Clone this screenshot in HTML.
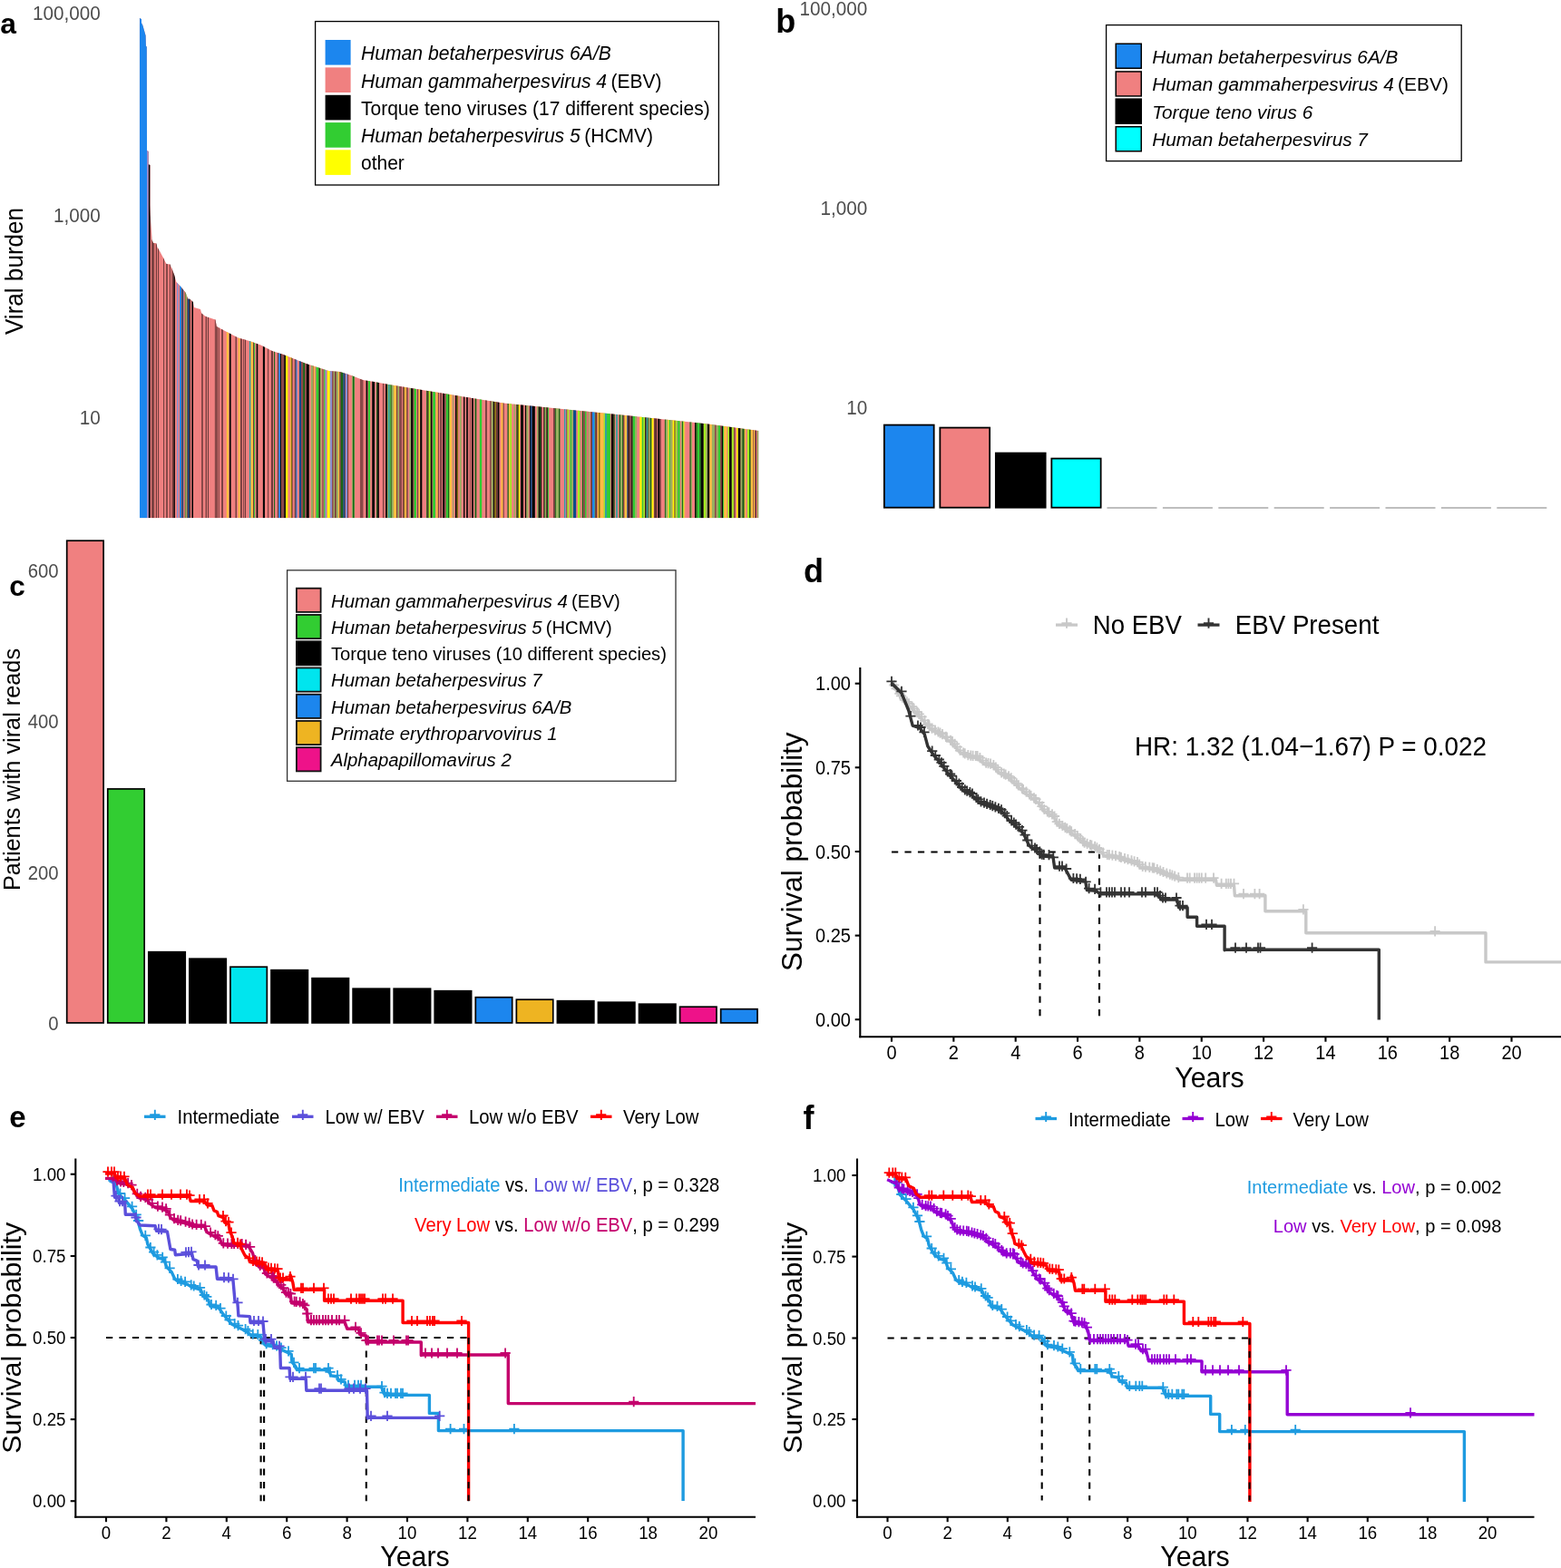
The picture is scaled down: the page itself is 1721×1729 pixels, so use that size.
<!DOCTYPE html>
<html lang="en"><head><meta charset="utf-8"><title>Viral burden and survival</title>
<style>
html,body{margin:0;padding:0;background:#fff;}
body{width:1721px;height:1729px;overflow:hidden;font-family:"Liberation Sans", sans-serif;}
svg{display:block;position:absolute;left:0;top:0;}
text{white-space:pre;}
</style></head><body>
<svg width="1721" height="1729" viewBox="0 0 1721 1729" font-family='"Liberation Sans", sans-serif'>
<text transform="translate(0.2 36.6)" font-size="31.8" fill="#000" font-weight="bold">a</text>
<text transform="translate(110.8 22.0) scale(1 1.05)" font-size="20.7" fill="#4D4D4D" text-anchor="end">100,000</text>
<text transform="translate(110.8 244.9) scale(1 1.05)" font-size="20.7" fill="#4D4D4D" text-anchor="end">1,000</text>
<text transform="translate(110.8 467.6) scale(1 1.05)" font-size="20.7" fill="#4D4D4D" text-anchor="end">10</text>
<text transform="translate(24.7 299) rotate(-90) scale(1 1.05)" font-size="26.1" fill="#000" text-anchor="middle">Viral burden</text>
<clipPath id="envA"><polygon points="154,571.3 153.9,19.8 156.0,21.2 156.0,25.3 157.4,28.1 158.8,33.0 160.6,39.3 160.9,50.4 161.8,51.8 162.0,166.0 163.7,167.0 163.7,181.3 165.5,182.0 165.5,226.4 165.8,237.0 167.0,255.0 167.3,264.0 169.0,268.0 172.4,268.5 173.5,272.7 176.0,276.7 180.0,284.3 183.4,291.0 187.5,291.5 189.8,297.0 192.0,302.8 194.4,310.9 197.9,314.4 201.3,318.4 204.8,323.0 207.1,329.4 209.4,329.8 212.9,332.9 214.0,339.0 221.0,341.0 222.2,345.6 226.8,349.0 237.5,352.5 238.8,360.0 250.0,366.0 262.5,372.5 275.0,376.0 287.5,380.5 300.0,387.0 312.5,391.0 325.0,396.0 337.5,401.0 350.0,405.0 362.5,409.0 375.0,410.0 387.5,414.0 400.0,419.0 412.5,421.0 430.0,424.3 555.0,444.5 680.0,457.0 780.0,467.5 836.3,475.0 836.3,571.3"/></clipPath>
<g clip-path="url(#envA)">
<rect x="153.00" y="10.00" width="684.00" height="561.30" fill="#F08080"/>
<rect x="153.92" y="10.00" width="8.11" height="561.30" fill="#1C86EE"/>
<rect x="162.03" y="10.00" width="1.83" height="561.30" fill="#9C8CCB"/>
<rect x="163.86" y="10.00" width="1.83" height="561.30" fill="#050505"/>
<rect x="167.26" y="10.00" width="2.62" height="561.30" fill="#6E3A3A"/>
<rect x="169.87" y="10.00" width="2.09" height="561.30" fill="#D87272"/>
<rect x="171.97" y="10.00" width="1.05" height="561.30" fill="#6E3A3A"/>
<rect x="174.06" y="10.00" width="1.05" height="561.30" fill="#6E3A3A"/>
<rect x="180.07" y="10.00" width="1.05" height="561.30" fill="#6E3A3A"/>
<rect x="183.21" y="10.00" width="1.57" height="561.30" fill="#6E3A3A"/>
<rect x="186.87" y="10.00" width="1.05" height="561.30" fill="#6E3A3A"/>
<rect x="189.23" y="10.00" width="2.09" height="561.30" fill="#8A4848"/>
<rect x="191.32" y="10.00" width="1.57" height="561.30" fill="#050505"/>
<rect x="194.98" y="10.00" width="1.57" height="561.30" fill="#8C90D0"/>
<rect x="198.12" y="10.00" width="2.09" height="561.30" fill="#1C86EE"/>
<rect x="200.21" y="10.00" width="0.78" height="561.30" fill="#6E3A3A"/>
<rect x="200.99" y="10.00" width="1.31" height="561.30" fill="#0A4A8A"/>
<rect x="202.30" y="10.00" width="1.57" height="561.30" fill="#D87272"/>
<rect x="203.87" y="10.00" width="0.78" height="561.30" fill="#176417"/>
<rect x="204.65" y="10.00" width="1.57" height="561.30" fill="#98B060"/>
<rect x="206.22" y="10.00" width="0.78" height="561.30" fill="#6E3A3A"/>
<rect x="207.01" y="10.00" width="1.57" height="561.30" fill="#0A4A8A"/>
<rect x="208.58" y="10.00" width="1.05" height="561.30" fill="#050505"/>
<rect x="211.45" y="10.00" width="1.57" height="561.30" fill="#050505"/>
<rect x="222.18" y="10.00" width="1.57" height="561.30" fill="#6E3A3A"/>
<rect x="226.62" y="10.00" width="1.31" height="561.30" fill="#6E3A3A"/>
<rect x="228.97" y="10.00" width="1.05" height="561.30" fill="#6E3A3A"/>
<rect x="236.82" y="10.00" width="3.19" height="561.30" fill="#8A4848"/>
<rect x="240.70" y="10.00" width="1.05" height="561.30" fill="#6E3A3A"/>
<rect x="244.18" y="10.00" width="1.74" height="561.30" fill="#6E3A3A"/>
<rect x="249.76" y="10.00" width="2.44" height="561.30" fill="#FFC040"/>
<rect x="252.90" y="10.00" width="1.74" height="561.30" fill="#050505"/>
<rect x="259.53" y="10.00" width="1.39" height="561.30" fill="#6E3A3A"/>
<rect x="262.66" y="10.00" width="1.74" height="561.30" fill="#FFC040"/>
<rect x="265.10" y="10.00" width="1.74" height="561.30" fill="#6E3A3A"/>
<rect x="268.24" y="10.00" width="1.05" height="561.30" fill="#6E3A3A"/>
<rect x="269.29" y="10.00" width="0.70" height="561.30" fill="#D87272"/>
<rect x="269.99" y="10.00" width="1.05" height="561.30" fill="#6E3A3A"/>
<rect x="274.87" y="10.00" width="1.74" height="561.30" fill="#30A0A0"/>
<rect x="276.61" y="10.00" width="2.44" height="561.30" fill="#FFC040"/>
<rect x="279.05" y="10.00" width="1.05" height="561.30" fill="#6E3A3A"/>
<rect x="280.10" y="10.00" width="1.05" height="561.30" fill="#32CD32"/>
<rect x="282.68" y="10.00" width="1.60" height="561.30" fill="#050505"/>
<rect x="289.86" y="10.00" width="2.09" height="561.30" fill="#050505"/>
<rect x="295.09" y="10.00" width="1.05" height="561.30" fill="#6E3A3A"/>
<rect x="298.93" y="10.00" width="2.09" height="561.30" fill="#6E3A3A"/>
<rect x="302.06" y="10.00" width="1.05" height="561.30" fill="#176417"/>
<rect x="305.90" y="10.00" width="1.39" height="561.30" fill="#6E3A3A"/>
<rect x="307.29" y="10.00" width="1.74" height="561.30" fill="#1C86EE"/>
<rect x="309.04" y="10.00" width="1.05" height="561.30" fill="#050505"/>
<rect x="310.08" y="10.00" width="3.14" height="561.30" fill="#8A4848"/>
<rect x="313.22" y="10.00" width="1.74" height="561.30" fill="#050505"/>
<rect x="314.97" y="10.00" width="2.44" height="561.30" fill="#FFF800"/>
<rect x="319.85" y="10.00" width="1.05" height="561.30" fill="#FFC040"/>
<rect x="320.89" y="10.00" width="1.05" height="561.30" fill="#807010"/>
<rect x="321.94" y="10.00" width="0.70" height="561.30" fill="#6E3A3A"/>
<rect x="324.73" y="10.00" width="1.05" height="561.30" fill="#6E3A3A"/>
<rect x="325.77" y="10.00" width="1.05" height="561.30" fill="#0A4A8A"/>
<rect x="326.82" y="10.00" width="1.05" height="561.30" fill="#8C90D0"/>
<rect x="329.96" y="10.00" width="2.09" height="561.30" fill="#0A4A8A"/>
<rect x="332.05" y="10.00" width="2.09" height="561.30" fill="#8A4848"/>
<rect x="334.14" y="10.00" width="2.09" height="561.30" fill="#176417"/>
<rect x="336.23" y="10.00" width="1.74" height="561.30" fill="#8A4848"/>
<rect x="337.98" y="10.00" width="2.79" height="561.30" fill="#050505"/>
<rect x="342.86" y="10.00" width="2.09" height="561.30" fill="#98B060"/>
<rect x="344.95" y="10.00" width="0.70" height="561.30" fill="#6E3A3A"/>
<rect x="345.65" y="10.00" width="1.39" height="561.30" fill="#FFC040"/>
<rect x="348.44" y="10.00" width="2.79" height="561.30" fill="#32CD32"/>
<rect x="351.23" y="10.00" width="1.05" height="561.30" fill="#176417"/>
<rect x="352.27" y="10.00" width="0.70" height="561.30" fill="#050505"/>
<rect x="352.97" y="10.00" width="1.39" height="561.30" fill="#98B060"/>
<rect x="355.41" y="10.00" width="1.05" height="561.30" fill="#6E3A3A"/>
<rect x="357.15" y="10.00" width="1.39" height="561.30" fill="#32CD32"/>
<rect x="358.55" y="10.00" width="1.46" height="561.30" fill="#8C90D0"/>
<rect x="360.84" y="10.00" width="3.00" height="561.30" fill="#FFF800"/>
<rect x="363.84" y="10.00" width="2.44" height="561.30" fill="#8C90D0"/>
<rect x="366.28" y="10.00" width="1.39" height="561.30" fill="#6E3A3A"/>
<rect x="367.67" y="10.00" width="1.39" height="561.30" fill="#98B060"/>
<rect x="369.07" y="10.00" width="1.74" height="561.30" fill="#6E3A3A"/>
<rect x="370.81" y="10.00" width="2.09" height="561.30" fill="#98B060"/>
<rect x="372.90" y="10.00" width="1.39" height="561.30" fill="#FFC040"/>
<rect x="374.30" y="10.00" width="1.39" height="561.30" fill="#6E3A3A"/>
<rect x="375.69" y="10.00" width="2.79" height="561.30" fill="#176417"/>
<rect x="378.48" y="10.00" width="1.74" height="561.30" fill="#0A4A8A"/>
<rect x="380.22" y="10.00" width="0.70" height="561.30" fill="#6E3A3A"/>
<rect x="380.92" y="10.00" width="2.09" height="561.30" fill="#8C90D0"/>
<rect x="383.01" y="10.00" width="1.05" height="561.30" fill="#6E3A3A"/>
<rect x="387.89" y="10.00" width="1.05" height="561.30" fill="#98B060"/>
<rect x="388.94" y="10.00" width="1.74" height="561.30" fill="#176417"/>
<rect x="390.68" y="10.00" width="0.35" height="561.30" fill="#32CD32"/>
<rect x="396.96" y="10.00" width="3.49" height="561.30" fill="#8A4848"/>
<rect x="403.58" y="10.00" width="1.74" height="561.30" fill="#050505"/>
<rect x="406.03" y="10.00" width="2.09" height="561.30" fill="#32CD32"/>
<rect x="410.21" y="10.00" width="2.79" height="561.30" fill="#050505"/>
<rect x="415.09" y="10.00" width="1.05" height="561.30" fill="#176417"/>
<rect x="416.14" y="10.00" width="1.74" height="561.30" fill="#050505"/>
<rect x="422.06" y="10.00" width="1.05" height="561.30" fill="#6E3A3A"/>
<rect x="423.11" y="10.00" width="2.09" height="561.30" fill="#D87272"/>
<rect x="425.20" y="10.00" width="1.74" height="561.30" fill="#050505"/>
<rect x="426.95" y="10.00" width="1.05" height="561.30" fill="#98B060"/>
<rect x="427.99" y="10.00" width="1.74" height="561.30" fill="#30A0A0"/>
<rect x="429.74" y="10.00" width="1.05" height="561.30" fill="#32CD32"/>
<rect x="430.78" y="10.00" width="1.05" height="561.30" fill="#176417"/>
<rect x="431.83" y="10.00" width="2.09" height="561.30" fill="#98B060"/>
<rect x="433.92" y="10.00" width="3.14" height="561.30" fill="#FFC040"/>
<rect x="437.06" y="10.00" width="1.39" height="561.30" fill="#6E3A3A"/>
<rect x="438.45" y="10.00" width="1.74" height="561.30" fill="#98B060"/>
<rect x="440.20" y="10.00" width="2.79" height="561.30" fill="#8A4848"/>
<rect x="444.03" y="10.00" width="1.39" height="561.30" fill="#6E3A3A"/>
<rect x="445.43" y="10.00" width="1.05" height="561.30" fill="#807010"/>
<rect x="446.47" y="10.00" width="1.74" height="561.30" fill="#FFC040"/>
<rect x="448.21" y="10.00" width="1.39" height="561.30" fill="#6E3A3A"/>
<rect x="451.35" y="10.00" width="1.74" height="561.30" fill="#98B060"/>
<rect x="453.10" y="10.00" width="2.09" height="561.30" fill="#050505"/>
<rect x="455.19" y="10.00" width="1.39" height="561.30" fill="#6E3A3A"/>
<rect x="456.58" y="10.00" width="2.44" height="561.30" fill="#32CD32"/>
<rect x="460.07" y="10.00" width="1.39" height="561.30" fill="#6E3A3A"/>
<rect x="461.46" y="10.00" width="1.74" height="561.30" fill="#FFC040"/>
<rect x="463.21" y="10.00" width="2.09" height="561.30" fill="#050505"/>
<rect x="470.18" y="10.00" width="1.39" height="561.30" fill="#176417"/>
<rect x="471.58" y="10.00" width="1.05" height="561.30" fill="#050505"/>
<rect x="472.62" y="10.00" width="2.09" height="561.30" fill="#A4EE20"/>
<rect x="474.71" y="10.00" width="1.74" height="561.30" fill="#050505"/>
<rect x="477.15" y="10.00" width="2.86" height="561.30" fill="#32CD32"/>
<rect x="480.84" y="10.00" width="1.95" height="561.30" fill="#FFC040"/>
<rect x="482.79" y="10.00" width="1.05" height="561.30" fill="#6E3A3A"/>
<rect x="485.23" y="10.00" width="1.74" height="561.30" fill="#6E3A3A"/>
<rect x="488.02" y="10.00" width="2.09" height="561.30" fill="#050505"/>
<rect x="490.11" y="10.00" width="1.74" height="561.30" fill="#8A4848"/>
<rect x="491.85" y="10.00" width="2.09" height="561.30" fill="#32CD32"/>
<rect x="493.95" y="10.00" width="1.05" height="561.30" fill="#176417"/>
<rect x="494.99" y="10.00" width="0.70" height="561.30" fill="#32CD32"/>
<rect x="495.69" y="10.00" width="2.44" height="561.30" fill="#FFC040"/>
<rect x="499.18" y="10.00" width="1.05" height="561.30" fill="#98B060"/>
<rect x="501.97" y="10.00" width="1.74" height="561.30" fill="#050505"/>
<rect x="503.71" y="10.00" width="1.39" height="561.30" fill="#807010"/>
<rect x="506.85" y="10.00" width="1.74" height="561.30" fill="#98B060"/>
<rect x="511.03" y="10.00" width="1.39" height="561.30" fill="#050505"/>
<rect x="514.17" y="10.00" width="1.74" height="561.30" fill="#050505"/>
<rect x="515.91" y="10.00" width="2.44" height="561.30" fill="#D87272"/>
<rect x="518.35" y="10.00" width="0.70" height="561.30" fill="#6E3A3A"/>
<rect x="520.10" y="10.00" width="1.74" height="561.30" fill="#050505"/>
<rect x="523.58" y="10.00" width="1.74" height="561.30" fill="#176417"/>
<rect x="528.81" y="10.00" width="2.44" height="561.30" fill="#32CD32"/>
<rect x="535.09" y="10.00" width="1.74" height="561.30" fill="#6E3A3A"/>
<rect x="539.97" y="10.00" width="1.74" height="561.30" fill="#8A4848"/>
<rect x="541.72" y="10.00" width="2.09" height="561.30" fill="#98B060"/>
<rect x="543.81" y="10.00" width="1.39" height="561.30" fill="#050505"/>
<rect x="545.20" y="10.00" width="1.74" height="561.30" fill="#807010"/>
<rect x="546.95" y="10.00" width="1.74" height="561.30" fill="#6E3A3A"/>
<rect x="548.69" y="10.00" width="1.74" height="561.30" fill="#050505"/>
<rect x="552.52" y="10.00" width="2.09" height="561.30" fill="#FFC040"/>
<rect x="554.62" y="10.00" width="1.05" height="561.30" fill="#6E3A3A"/>
<rect x="559.50" y="10.00" width="1.39" height="561.30" fill="#176417"/>
<rect x="560.89" y="10.00" width="1.39" height="561.30" fill="#FFC040"/>
<rect x="562.29" y="10.00" width="1.74" height="561.30" fill="#A4EE20"/>
<rect x="566.47" y="10.00" width="1.39" height="561.30" fill="#98B060"/>
<rect x="569.26" y="10.00" width="1.39" height="561.30" fill="#176417"/>
<rect x="570.66" y="10.00" width="1.05" height="561.30" fill="#050505"/>
<rect x="571.70" y="10.00" width="1.39" height="561.30" fill="#FFF800"/>
<rect x="574.14" y="10.00" width="2.79" height="561.30" fill="#050505"/>
<rect x="576.93" y="10.00" width="2.09" height="561.30" fill="#D87272"/>
<rect x="579.02" y="10.00" width="1.39" height="561.30" fill="#050505"/>
<rect x="580.42" y="10.00" width="2.09" height="561.30" fill="#98B060"/>
<rect x="583.91" y="10.00" width="1.05" height="561.30" fill="#050505"/>
<rect x="584.95" y="10.00" width="1.74" height="561.30" fill="#0A4A8A"/>
<rect x="586.69" y="10.00" width="3.14" height="561.30" fill="#050505"/>
<rect x="591.92" y="10.00" width="1.74" height="561.30" fill="#98B060"/>
<rect x="593.67" y="10.00" width="1.39" height="561.30" fill="#050505"/>
<rect x="595.06" y="10.00" width="1.05" height="561.30" fill="#176417"/>
<rect x="596.11" y="10.00" width="1.05" height="561.30" fill="#050505"/>
<rect x="598.90" y="10.00" width="1.12" height="561.30" fill="#6E3A3A"/>
<rect x="600.00" y="10.00" width="0.84" height="561.30" fill="#176417"/>
<rect x="600.84" y="10.00" width="1.12" height="561.30" fill="#98B060"/>
<rect x="601.95" y="10.00" width="0.84" height="561.30" fill="#6E3A3A"/>
<rect x="602.79" y="10.00" width="1.05" height="561.30" fill="#050505"/>
<rect x="603.84" y="10.00" width="1.05" height="561.30" fill="#32CD32"/>
<rect x="610.11" y="10.00" width="1.74" height="561.30" fill="#6E3A3A"/>
<rect x="611.85" y="10.00" width="1.05" height="561.30" fill="#176417"/>
<rect x="612.90" y="10.00" width="3.14" height="561.30" fill="#98B060"/>
<rect x="616.04" y="10.00" width="1.39" height="561.30" fill="#176417"/>
<rect x="621.97" y="10.00" width="1.39" height="561.30" fill="#30A0A0"/>
<rect x="623.36" y="10.00" width="1.05" height="561.30" fill="#8C90D0"/>
<rect x="624.41" y="10.00" width="1.05" height="561.30" fill="#6E3A3A"/>
<rect x="625.45" y="10.00" width="1.74" height="561.30" fill="#A4EE20"/>
<rect x="628.59" y="10.00" width="1.74" height="561.30" fill="#32CD32"/>
<rect x="630.33" y="10.00" width="1.74" height="561.30" fill="#98B060"/>
<rect x="632.08" y="10.00" width="3.14" height="561.30" fill="#0A4A8A"/>
<rect x="636.96" y="10.00" width="2.09" height="561.30" fill="#A4EE20"/>
<rect x="639.05" y="10.00" width="1.05" height="561.30" fill="#98B060"/>
<rect x="641.84" y="10.00" width="1.39" height="561.30" fill="#176417"/>
<rect x="643.24" y="10.00" width="1.74" height="561.30" fill="#8A4848"/>
<rect x="644.98" y="10.00" width="1.74" height="561.30" fill="#32CD32"/>
<rect x="646.72" y="10.00" width="2.09" height="561.30" fill="#D87272"/>
<rect x="648.81" y="10.00" width="1.39" height="561.30" fill="#98B060"/>
<rect x="651.26" y="10.00" width="1.74" height="561.30" fill="#6E3A3A"/>
<rect x="653.00" y="10.00" width="2.09" height="561.30" fill="#1C86EE"/>
<rect x="655.09" y="10.00" width="1.05" height="561.30" fill="#30A0A0"/>
<rect x="656.14" y="10.00" width="2.44" height="561.30" fill="#6E3A3A"/>
<rect x="658.58" y="10.00" width="1.39" height="561.30" fill="#FFC040"/>
<rect x="659.97" y="10.00" width="1.74" height="561.30" fill="#807010"/>
<rect x="661.72" y="10.00" width="2.09" height="561.30" fill="#FFC040"/>
<rect x="663.81" y="10.00" width="1.74" height="561.30" fill="#FFC040"/>
<rect x="665.55" y="10.00" width="1.39" height="561.30" fill="#A4EE20"/>
<rect x="666.95" y="10.00" width="2.09" height="561.30" fill="#30A0A0"/>
<rect x="669.04" y="10.00" width="3.84" height="561.30" fill="#32CD32"/>
<rect x="673.92" y="10.00" width="2.79" height="561.30" fill="#050505"/>
<rect x="676.71" y="10.00" width="1.05" height="561.30" fill="#176417"/>
<rect x="679.15" y="10.00" width="1.74" height="561.30" fill="#30A0A0"/>
<rect x="682.64" y="10.00" width="1.39" height="561.30" fill="#176417"/>
<rect x="684.03" y="10.00" width="2.09" height="561.30" fill="#98B060"/>
<rect x="686.12" y="10.00" width="1.05" height="561.30" fill="#176417"/>
<rect x="687.17" y="10.00" width="1.39" height="561.30" fill="#6E3A3A"/>
<rect x="688.56" y="10.00" width="2.79" height="561.30" fill="#FFC040"/>
<rect x="691.35" y="10.00" width="1.05" height="561.30" fill="#0A4A8A"/>
<rect x="692.40" y="10.00" width="1.39" height="561.30" fill="#050505"/>
<rect x="693.79" y="10.00" width="2.44" height="561.30" fill="#8A4848"/>
<rect x="696.23" y="10.00" width="1.39" height="561.30" fill="#050505"/>
<rect x="697.63" y="10.00" width="2.44" height="561.30" fill="#32CD32"/>
<rect x="700.07" y="10.00" width="2.09" height="561.30" fill="#98B060"/>
<rect x="705.30" y="10.00" width="2.44" height="561.30" fill="#FFF800"/>
<rect x="707.74" y="10.00" width="1.74" height="561.30" fill="#32CD32"/>
<rect x="709.48" y="10.00" width="1.74" height="561.30" fill="#A4EE20"/>
<rect x="711.23" y="10.00" width="1.39" height="561.30" fill="#050505"/>
<rect x="712.62" y="10.00" width="1.74" height="561.30" fill="#30A0A0"/>
<rect x="714.37" y="10.00" width="1.05" height="561.30" fill="#176417"/>
<rect x="715.41" y="10.00" width="1.39" height="561.30" fill="#98B060"/>
<rect x="716.81" y="10.00" width="1.74" height="561.30" fill="#176417"/>
<rect x="718.55" y="10.00" width="1.46" height="561.30" fill="#FFF800"/>
<rect x="720.00" y="10.00" width="1.05" height="561.30" fill="#FFC040"/>
<rect x="721.05" y="10.00" width="1.74" height="561.30" fill="#6E3A3A"/>
<rect x="722.79" y="10.00" width="1.05" height="561.30" fill="#050505"/>
<rect x="723.84" y="10.00" width="1.39" height="561.30" fill="#D87272"/>
<rect x="725.23" y="10.00" width="1.74" height="561.30" fill="#050505"/>
<rect x="726.97" y="10.00" width="1.74" height="561.30" fill="#6E3A3A"/>
<rect x="732.90" y="10.00" width="1.05" height="561.30" fill="#176417"/>
<rect x="733.95" y="10.00" width="2.09" height="561.30" fill="#98B060"/>
<rect x="736.04" y="10.00" width="1.05" height="561.30" fill="#FFC040"/>
<rect x="737.09" y="10.00" width="1.05" height="561.30" fill="#A4EE20"/>
<rect x="738.13" y="10.00" width="1.05" height="561.30" fill="#32CD32"/>
<rect x="739.18" y="10.00" width="2.44" height="561.30" fill="#98B060"/>
<rect x="741.62" y="10.00" width="1.74" height="561.30" fill="#FFF800"/>
<rect x="743.36" y="10.00" width="1.39" height="561.30" fill="#807010"/>
<rect x="744.76" y="10.00" width="1.39" height="561.30" fill="#A4EE20"/>
<rect x="746.15" y="10.00" width="1.05" height="561.30" fill="#98B060"/>
<rect x="747.20" y="10.00" width="2.44" height="561.30" fill="#32CD32"/>
<rect x="751.03" y="10.00" width="1.05" height="561.30" fill="#98B060"/>
<rect x="752.08" y="10.00" width="1.05" height="561.30" fill="#176417"/>
<rect x="753.12" y="10.00" width="1.05" height="561.30" fill="#A4EE20"/>
<rect x="754.17" y="10.00" width="1.05" height="561.30" fill="#FFC040"/>
<rect x="760.45" y="10.00" width="1.39" height="561.30" fill="#176417"/>
<rect x="761.84" y="10.00" width="1.05" height="561.30" fill="#98B060"/>
<rect x="766.03" y="10.00" width="1.05" height="561.30" fill="#050505"/>
<rect x="767.07" y="10.00" width="1.74" height="561.30" fill="#176417"/>
<rect x="768.81" y="10.00" width="2.44" height="561.30" fill="#32CD32"/>
<rect x="771.26" y="10.00" width="1.74" height="561.30" fill="#176417"/>
<rect x="773.00" y="10.00" width="2.79" height="561.30" fill="#050505"/>
<rect x="775.79" y="10.00" width="2.44" height="561.30" fill="#A4EE20"/>
<rect x="778.23" y="10.00" width="1.74" height="561.30" fill="#98B060"/>
<rect x="779.97" y="10.00" width="2.44" height="561.30" fill="#050505"/>
<rect x="782.41" y="10.00" width="2.44" height="561.30" fill="#FFC040"/>
<rect x="784.85" y="10.00" width="3.14" height="561.30" fill="#98B060"/>
<rect x="787.99" y="10.00" width="1.74" height="561.30" fill="#8A4848"/>
<rect x="789.74" y="10.00" width="2.09" height="561.30" fill="#98B060"/>
<rect x="791.83" y="10.00" width="2.44" height="561.30" fill="#32CD32"/>
<rect x="794.27" y="10.00" width="1.74" height="561.30" fill="#6E3A3A"/>
<rect x="796.01" y="10.00" width="1.05" height="561.30" fill="#050505"/>
<rect x="797.06" y="10.00" width="1.05" height="561.30" fill="#32CD32"/>
<rect x="798.10" y="10.00" width="3.14" height="561.30" fill="#FFC040"/>
<rect x="802.29" y="10.00" width="1.74" height="561.30" fill="#A4EE20"/>
<rect x="804.03" y="10.00" width="2.79" height="561.30" fill="#050505"/>
<rect x="806.82" y="10.00" width="2.09" height="561.30" fill="#A4EE20"/>
<rect x="808.91" y="10.00" width="1.74" height="561.30" fill="#8A4848"/>
<rect x="812.05" y="10.00" width="1.74" height="561.30" fill="#FFF800"/>
<rect x="813.79" y="10.00" width="2.79" height="561.30" fill="#050505"/>
<rect x="816.58" y="10.00" width="1.74" height="561.30" fill="#98B060"/>
<rect x="818.33" y="10.00" width="2.44" height="561.30" fill="#176417"/>
<rect x="820.77" y="10.00" width="1.39" height="561.30" fill="#FFC040"/>
<rect x="823.91" y="10.00" width="2.09" height="561.30" fill="#A4EE20"/>
<rect x="826.00" y="10.00" width="1.74" height="561.30" fill="#176417"/>
<rect x="827.74" y="10.00" width="2.44" height="561.30" fill="#FFC040"/>
<rect x="830.18" y="10.00" width="0.70" height="561.30" fill="#6E3A3A"/>
<rect x="830.88" y="10.00" width="1.39" height="561.30" fill="#FFC040"/>
<rect x="832.27" y="10.00" width="1.74" height="561.30" fill="#6E3A3A"/>
<rect x="835.41" y="10.00" width="0.70" height="561.30" fill="#32CD32"/>
</g>
<rect x="347.60" y="23.60" width="444.80" height="180.40" fill="#fff" stroke="#000" stroke-width="1.3"/>
<rect x="358.60" y="44.00" width="28.00" height="27.60" fill="#1C86EE"/>
<text transform="translate(398 66.1) scale(1 1.02)" font-size="21" fill="#000"><tspan font-style="italic" font-size="21.13">Human betaherpesvirus 6A/B</tspan></text>
<rect x="358.60" y="74.40" width="28.00" height="27.60" fill="#F08080"/>
<text transform="translate(398 96.5) scale(1 1.02)" font-size="21" fill="#000"><tspan font-style="italic" font-size="21.13">Human gammaherpesvirus 4</tspan><tspan dx="-1.4"> (EBV)</tspan></text>
<rect x="358.60" y="104.80" width="28.00" height="27.60" fill="#000000"/>
<text transform="translate(398 126.9) scale(1 1.02)" font-size="21" fill="#000">Torque teno viruses (17 different species)</text>
<rect x="358.60" y="135.10" width="28.00" height="27.60" fill="#32CD32"/>
<text transform="translate(398 157.2) scale(1 1.02)" font-size="21" fill="#000"><tspan font-style="italic" font-size="21.13">Human betaherpesvirus 5</tspan><tspan dx="-1.4"> (HCMV)</tspan></text>
<rect x="358.60" y="165.30" width="28.00" height="27.60" fill="#FFFF00"/>
<text transform="translate(398 187.4) scale(1 1.02)" font-size="21" fill="#000">other</text>
<text transform="translate(855.3 36)" font-size="36" fill="#000" font-weight="bold">b</text>
<text transform="translate(956.3 17) scale(1 1.05)" font-size="20.7" fill="#4D4D4D" text-anchor="end">100,000</text>
<text transform="translate(956.3 237) scale(1 1.05)" font-size="20.7" fill="#4D4D4D" text-anchor="end">1,000</text>
<text transform="translate(956.3 457) scale(1 1.05)" font-size="20.7" fill="#4D4D4D" text-anchor="end">10</text>
<rect x="974.85" y="468.60" width="54.80" height="91.10" fill="#1C86EE" stroke="#000" stroke-width="1.8"/>
<rect x="1036.35" y="471.60" width="54.80" height="88.10" fill="#F08080" stroke="#000" stroke-width="1.8"/>
<rect x="1097.85" y="499.60" width="54.80" height="60.10" fill="#000000" stroke="#000" stroke-width="1.8"/>
<rect x="1159.35" y="505.60" width="54.30" height="54.10" fill="#00FFFF" stroke="#000" stroke-width="1.8"/>
<line x1="1220.50" y1="560.00" x2="1275.50" y2="560.00" stroke="#BEBEBE" stroke-width="2.0"/>
<line x1="1281.90" y1="560.00" x2="1336.90" y2="560.00" stroke="#BEBEBE" stroke-width="2.0"/>
<line x1="1343.30" y1="560.00" x2="1398.30" y2="560.00" stroke="#BEBEBE" stroke-width="2.0"/>
<line x1="1404.70" y1="560.00" x2="1459.70" y2="560.00" stroke="#BEBEBE" stroke-width="2.0"/>
<line x1="1466.10" y1="560.00" x2="1521.10" y2="560.00" stroke="#BEBEBE" stroke-width="2.0"/>
<line x1="1527.50" y1="560.00" x2="1582.50" y2="560.00" stroke="#BEBEBE" stroke-width="2.0"/>
<line x1="1588.90" y1="560.00" x2="1643.90" y2="560.00" stroke="#BEBEBE" stroke-width="2.0"/>
<line x1="1650.30" y1="560.00" x2="1705.30" y2="560.00" stroke="#BEBEBE" stroke-width="2.0"/>
<rect x="1219.60" y="27.60" width="391.60" height="150.00" fill="#fff" stroke="#000" stroke-width="1.3"/>
<rect x="1230.25" y="48.25" width="28.00" height="27.00" fill="#1C86EE" stroke="#000" stroke-width="1.5"/>
<text transform="translate(1270.3 69.7)" font-size="20.9" fill="#000"><tspan font-style="italic" font-size="20.75">Human betaherpesvirus 6A/B</tspan></text>
<rect x="1230.25" y="78.95" width="28.00" height="27.00" fill="#F08080" stroke="#000" stroke-width="1.5"/>
<text transform="translate(1270.3 100.4)" font-size="20.9" fill="#000"><tspan font-style="italic" font-size="20.75">Human gammaherpesvirus 4</tspan><tspan dx="-1.4"> (EBV)</tspan></text>
<rect x="1230.25" y="109.15" width="28.00" height="27.00" fill="#000000" stroke="#000" stroke-width="1.5"/>
<text transform="translate(1270.3 130.6)" font-size="20.9" fill="#000"><tspan font-style="italic" font-size="20.75">Torque teno virus 6</tspan></text>
<rect x="1230.25" y="139.75" width="28.00" height="27.00" fill="#00FFFF" stroke="#000" stroke-width="1.5"/>
<text transform="translate(1270.3 161.2)" font-size="20.9" fill="#000"><tspan font-style="italic" font-size="20.75">Human betaherpesvirus 7</tspan></text>
<text transform="translate(10.3 656.8)" font-size="31.5" fill="#000" font-weight="bold">c</text>
<text transform="translate(64.5 1136.3) scale(1 1.05)" font-size="20.3" fill="#4D4D4D" text-anchor="end">0</text>
<text transform="translate(64.5 969.8) scale(1 1.05)" font-size="20.3" fill="#4D4D4D" text-anchor="end">200</text>
<text transform="translate(64.5 803.3) scale(1 1.05)" font-size="20.3" fill="#4D4D4D" text-anchor="end">400</text>
<text transform="translate(64.5 636.8) scale(1 1.05)" font-size="20.3" fill="#4D4D4D" text-anchor="end">600</text>
<text transform="translate(22 848.5) rotate(-90) scale(1 1.05)" font-size="25.3" fill="#000" text-anchor="middle">Patients with viral reads</text>
<rect x="73.70" y="596.20" width="40.40" height="531.70" fill="#F08080" stroke="#000" stroke-width="1.7"/>
<rect x="118.76" y="869.95" width="40.40" height="257.95" fill="#32CD32" stroke="#000" stroke-width="1.7"/>
<rect x="163.82" y="1049.70" width="40.40" height="78.20" fill="#000000" stroke="#000" stroke-width="1.7"/>
<rect x="208.88" y="1057.20" width="40.40" height="70.70" fill="#000000" stroke="#000" stroke-width="1.7"/>
<rect x="253.94" y="1066.20" width="40.40" height="61.70" fill="#00E5EE" stroke="#000" stroke-width="1.7"/>
<rect x="299.00" y="1069.70" width="40.40" height="58.20" fill="#000000" stroke="#000" stroke-width="1.7"/>
<rect x="344.06" y="1078.70" width="40.40" height="49.20" fill="#000000" stroke="#000" stroke-width="1.7"/>
<rect x="389.12" y="1090.20" width="40.40" height="37.70" fill="#000000" stroke="#000" stroke-width="1.7"/>
<rect x="434.18" y="1090.20" width="40.40" height="37.70" fill="#000000" stroke="#000" stroke-width="1.7"/>
<rect x="479.24" y="1092.70" width="40.40" height="35.20" fill="#000000" stroke="#000" stroke-width="1.7"/>
<rect x="524.30" y="1099.70" width="40.40" height="28.20" fill="#1C86EE" stroke="#000" stroke-width="1.7"/>
<rect x="569.36" y="1102.20" width="40.40" height="25.70" fill="#EEB422" stroke="#000" stroke-width="1.7"/>
<rect x="614.42" y="1103.70" width="40.40" height="24.20" fill="#000000" stroke="#000" stroke-width="1.7"/>
<rect x="659.48" y="1105.20" width="40.40" height="22.70" fill="#000000" stroke="#000" stroke-width="1.7"/>
<rect x="704.54" y="1107.20" width="40.40" height="20.70" fill="#000000" stroke="#000" stroke-width="1.7"/>
<rect x="749.60" y="1110.20" width="40.40" height="17.70" fill="#EE1289" stroke="#000" stroke-width="1.7"/>
<rect x="794.66" y="1112.70" width="40.40" height="15.20" fill="#1C86EE" stroke="#000" stroke-width="1.7"/>
<rect x="316.60" y="628.80" width="428.40" height="232.50" fill="#fff" stroke="#333" stroke-width="1.3"/>
<rect x="326.90" y="648.70" width="26.70" height="26.20" fill="#F08080" stroke="#111" stroke-width="1.8"/>
<text transform="translate(365 669.5)" font-size="20.2" fill="#000"><tspan font-style="italic" font-size="20.32">Human gammaherpesvirus 4</tspan><tspan dx="-1.4"> (EBV)</tspan></text>
<rect x="326.90" y="677.95" width="26.70" height="26.20" fill="#32CD32" stroke="#111" stroke-width="1.8"/>
<text transform="translate(365 698.75)" font-size="20.2" fill="#000"><tspan font-style="italic" font-size="20.32">Human betaherpesvirus 5</tspan><tspan dx="-1.4"> (HCMV)</tspan></text>
<rect x="326.90" y="707.20" width="26.70" height="26.20" fill="#000000" stroke="#111" stroke-width="1.8"/>
<text transform="translate(365 728.0)" font-size="20.2" fill="#000">Torque teno viruses (10 different species)</text>
<rect x="326.90" y="736.45" width="26.70" height="26.20" fill="#00E5EE" stroke="#111" stroke-width="1.8"/>
<text transform="translate(365 757.25)" font-size="20.2" fill="#000"><tspan font-style="italic" font-size="20.32">Human betaherpesvirus 7</tspan></text>
<rect x="326.90" y="765.70" width="26.70" height="26.20" fill="#1C86EE" stroke="#111" stroke-width="1.8"/>
<text transform="translate(365 786.5)" font-size="20.2" fill="#000"><tspan font-style="italic" font-size="20.32">Human betaherpesvirus 6A/B</tspan></text>
<rect x="326.90" y="794.95" width="26.70" height="26.20" fill="#EEB422" stroke="#111" stroke-width="1.8"/>
<text transform="translate(365 815.75)" font-size="20.2" fill="#000"><tspan font-style="italic" font-size="20.32">Primate erythroparvovirus 1</tspan></text>
<rect x="326.90" y="824.20" width="26.70" height="26.20" fill="#EE1289" stroke="#111" stroke-width="1.8"/>
<text transform="translate(365 845.0)" font-size="20.2" fill="#000"><tspan font-style="italic" font-size="20.32">Alphapapillomavirus 2</tspan></text>
<text transform="translate(886 642)" font-size="36" fill="#000" font-weight="bold">d</text>
<line x1="948.30" y1="736.00" x2="948.30" y2="1144.35" stroke="#000" stroke-width="2.1"/>
<line x1="947.25" y1="1143.30" x2="1721.00" y2="1143.30" stroke="#000" stroke-width="2.1"/>
<line x1="983.00" y1="1143.30" x2="983.00" y2="1148.70" stroke="#000" stroke-width="2.1"/>
<text transform="translate(983.0 1168) scale(1 1.12)" font-size="20" fill="#000" text-anchor="middle">0</text>
<line x1="1051.35" y1="1143.30" x2="1051.35" y2="1148.70" stroke="#000" stroke-width="2.1"/>
<text transform="translate(1051.3 1168) scale(1 1.12)" font-size="20" fill="#000" text-anchor="middle">2</text>
<line x1="1119.70" y1="1143.30" x2="1119.70" y2="1148.70" stroke="#000" stroke-width="2.1"/>
<text transform="translate(1119.7 1168) scale(1 1.12)" font-size="20" fill="#000" text-anchor="middle">4</text>
<line x1="1188.05" y1="1143.30" x2="1188.05" y2="1148.70" stroke="#000" stroke-width="2.1"/>
<text transform="translate(1188.0 1168) scale(1 1.12)" font-size="20" fill="#000" text-anchor="middle">6</text>
<line x1="1256.40" y1="1143.30" x2="1256.40" y2="1148.70" stroke="#000" stroke-width="2.1"/>
<text transform="translate(1256.4 1168) scale(1 1.12)" font-size="20" fill="#000" text-anchor="middle">8</text>
<line x1="1324.75" y1="1143.30" x2="1324.75" y2="1148.70" stroke="#000" stroke-width="2.1"/>
<text transform="translate(1324.8 1168) scale(1 1.12)" font-size="20" fill="#000" text-anchor="middle">10</text>
<line x1="1393.10" y1="1143.30" x2="1393.10" y2="1148.70" stroke="#000" stroke-width="2.1"/>
<text transform="translate(1393.1 1168) scale(1 1.12)" font-size="20" fill="#000" text-anchor="middle">12</text>
<line x1="1461.45" y1="1143.30" x2="1461.45" y2="1148.70" stroke="#000" stroke-width="2.1"/>
<text transform="translate(1461.4 1168) scale(1 1.12)" font-size="20" fill="#000" text-anchor="middle">14</text>
<line x1="1529.80" y1="1143.30" x2="1529.80" y2="1148.70" stroke="#000" stroke-width="2.1"/>
<text transform="translate(1529.8 1168) scale(1 1.12)" font-size="20" fill="#000" text-anchor="middle">16</text>
<line x1="1598.15" y1="1143.30" x2="1598.15" y2="1148.70" stroke="#000" stroke-width="2.1"/>
<text transform="translate(1598.2 1168) scale(1 1.12)" font-size="20" fill="#000" text-anchor="middle">18</text>
<line x1="1666.50" y1="1143.30" x2="1666.50" y2="1148.70" stroke="#000" stroke-width="2.1"/>
<text transform="translate(1666.5 1168) scale(1 1.12)" font-size="20" fill="#000" text-anchor="middle">20</text>
<line x1="942.70" y1="753.70" x2="948.30" y2="753.70" stroke="#000" stroke-width="2.1"/>
<text transform="translate(938 761.4) scale(1 1.12)" font-size="20" fill="#000" text-anchor="end">1.00</text>
<line x1="942.70" y1="846.30" x2="948.30" y2="846.30" stroke="#000" stroke-width="2.1"/>
<text transform="translate(938 854.0) scale(1 1.12)" font-size="20" fill="#000" text-anchor="end">0.75</text>
<line x1="942.70" y1="939.00" x2="948.30" y2="939.00" stroke="#000" stroke-width="2.1"/>
<text transform="translate(938 946.7) scale(1 1.12)" font-size="20" fill="#000" text-anchor="end">0.50</text>
<line x1="942.70" y1="1031.60" x2="948.30" y2="1031.60" stroke="#000" stroke-width="2.1"/>
<text transform="translate(938 1039.3) scale(1 1.12)" font-size="20" fill="#000" text-anchor="end">0.25</text>
<line x1="942.70" y1="1124.20" x2="948.30" y2="1124.20" stroke="#000" stroke-width="2.1"/>
<text transform="translate(938 1131.9) scale(1 1.12)" font-size="20" fill="#000" text-anchor="end">0.00</text>
<text transform="translate(884.4 939.2) rotate(-90)" font-size="31.4" fill="#000" text-anchor="middle">Survival probability</text>
<text transform="translate(1333.5 1199) scale(1 1.05)" font-size="30.3" fill="#000" text-anchor="middle">Years</text>
<line x1="1164.00" y1="689.10" x2="1188.00" y2="689.10" stroke="#C8C8C8" stroke-width="3.3"/>
<path d="M1170.4,687.1h11.2M1176.0,681.5v11.2" fill="none" stroke="#C8C8C8" stroke-width="1.9"/>
<text transform="translate(1204.8 699.1) scale(1 1.05)" font-size="27.6" fill="#000">No EBV</text>
<line x1="1320.50" y1="689.10" x2="1344.50" y2="689.10" stroke="#333333" stroke-width="3.3"/>
<path d="M1326.9,687.1h11.2M1332.5,681.5v11.2" fill="none" stroke="#333333" stroke-width="1.9"/>
<text transform="translate(1361.8 699.1) scale(1 1.05)" font-size="27.7" fill="#000">EBV Present</text>
<text transform="translate(1251 833) scale(1 1.05)" font-size="27.85" fill="#000">HR: 1.32 (1.04−1.67) P = 0.022</text>
<line x1="983.00" y1="939.50" x2="1212.00" y2="939.50" stroke="#000" stroke-width="2.1" stroke-dasharray="7.23 7.23"/>
<line x1="1146.50" y1="939.50" x2="1146.50" y2="1124.50" stroke="#000" stroke-width="2.1" stroke-dasharray="7.23 7.23"/>
<line x1="1212.00" y1="939.50" x2="1212.00" y2="1124.50" stroke="#000" stroke-width="2.1" stroke-dasharray="7.23 7.23"/>
<polyline points="982.7,753.0 994.9,771.3 1005.3,780.9 1017.5,794.0 1026.2,804.4 1040.2,812.3 1050.6,820.1 1059.4,830.6 1068.1,834.9 1078.5,835.8 1085.5,842.8 1094.2,844.5 1102.9,853.2 1113.4,858.4 1123.8,868.9 1134.3,877.6 1144.8,885.5 1151.7,895.0 1162.2,901.1 1165.7,909.0 1177.5,916.2 1189.7,924.9 1195.0,931.0 1207.2,935.4 1214.1,939.7 1217.6,944.1 1231.6,945.8 1242.0,949.3 1254.2,952.8 1257.7,957.1 1271.6,958.9 1283.8,964.1 1296.1,968.5 1301.3,970.2 1340.5,970.2 1341.4,976.3 1360.5,976.3 1361.4,987.7 1394.5,987.7 1394.9,987.4 1394.9,1004.8 1439.8,1004.8 1439.8,1028.8 1638.0,1028.8 1638.0,1060.9 1721.0,1060.9" fill="none" stroke="#C8C8C8" stroke-width="3.4" stroke-linejoin="round" stroke-linecap="butt"/>
<path d="M980.1,755.5h11.2M985.7,749.9v11.2M982.6,759.3h11.2M988.2,753.7v11.2M986.3,764.8h11.2M991.9,759.2v11.2M988.0,767.4h11.2M993.6,761.8v11.2M991.7,771.5h11.2M997.3,765.9v11.2M994.2,773.8h11.2M999.8,768.2v11.2M996.4,775.8h11.2M1002.0,770.2v11.2M1000.0,779.2h11.2M1005.6,773.6v11.2M1002.0,781.3h11.2M1007.6,775.7v11.2M1005.5,785.0h11.2M1011.1,779.4v11.2M1007.6,787.3h11.2M1013.2,781.7v11.2M1010.5,790.4h11.2M1016.1,784.8v11.2M1013.9,794.3h11.2M1019.5,788.7v11.2M1017.4,798.5h11.2M1023.0,792.9v11.2M1018.9,800.4h11.2M1024.5,794.8v11.2M1021.9,803.1h11.2M1027.5,797.5v11.2M1025.4,805.1h11.2M1031.0,799.5v11.2M1028.8,807.0h11.2M1034.4,801.4v11.2M1030.9,808.2h11.2M1036.5,802.6v11.2M1033.4,809.6h11.2M1039.0,804.0v11.2M1037.3,812.3h11.2M1042.9,806.7v11.2M1038.4,813.1h11.2M1044.0,807.5v11.2M1042.6,816.3h11.2M1048.2,810.7v11.2M1044.4,817.6h11.2M1050.0,812.0v11.2M1047.0,820.4h11.2M1052.6,814.8v11.2M1049.7,823.7h11.2M1055.3,818.1v11.2M1052.9,827.5h11.2M1058.5,821.9v11.2M1056.6,830.0h11.2M1062.2,824.4v11.2M1058.2,830.8h11.2M1063.8,825.2v11.2M1061.7,832.6h11.2M1067.3,827.0v11.2M1064.7,833.1h11.2M1070.3,827.5v11.2M1067.0,833.3h11.2M1072.6,827.7v11.2M1070.1,833.5h11.2M1075.7,827.9v11.2M1072.0,833.7h11.2M1077.6,828.1v11.2M1074.8,835.7h11.2M1080.4,830.1v11.2M1077.9,838.7h11.2M1083.5,833.1v11.2M1081.5,841.1h11.2M1087.1,835.5v11.2M1083.9,841.6h11.2M1089.5,836.0v11.2M1086.5,842.1h11.2M1092.1,836.5v11.2M1089.8,843.6h11.2M1095.4,838.0v11.2M1092.3,846.2h11.2M1097.9,840.6v11.2M1094.8,848.7h11.2M1100.4,843.1v11.2M1098.5,851.8h11.2M1104.1,846.2v11.2M1101.2,853.1h11.2M1106.8,847.5v11.2M1103.1,854.1h11.2M1108.7,848.5v11.2M1106.5,855.8h11.2M1112.1,850.2v11.2M1109.2,857.9h11.2M1114.8,852.3v11.2M1112.7,861.3h11.2M1118.3,855.7v11.2M1115.2,863.9h11.2M1120.8,858.3v11.2M1117.2,865.9h11.2M1122.8,860.3v11.2M1121.3,869.4h11.2M1126.9,863.8v11.2M1122.5,870.5h11.2M1128.1,864.9v11.2M1125.9,873.2h11.2M1131.5,867.6v11.2M1129.3,876.0h11.2M1134.9,870.4v11.2M1131.0,877.3h11.2M1136.6,871.7v11.2M1134.4,879.9h11.2M1140.0,874.3v11.2M1136.4,881.4h11.2M1142.0,875.8v11.2M1140.3,885.0h11.2M1145.9,879.4v11.2M1143.3,889.1h11.2M1148.9,883.5v11.2M1145.7,892.5h11.2M1151.3,886.9v11.2M1149.1,894.8h11.2M1154.7,889.2v11.2M1150.9,895.8h11.2M1156.5,890.2v11.2M1154.4,897.8h11.2M1160.0,892.2v11.2M1157.0,900.0h11.2M1162.6,894.4v11.2M1159.7,906.2h11.2M1165.3,900.6v11.2M1162.3,908.4h11.2M1167.9,902.8v11.2M1165.8,910.5h11.2M1171.4,904.9v11.2M1168.8,912.3h11.2M1174.4,906.7v11.2M1170.8,913.5h11.2M1176.4,907.9v11.2M1173.9,915.6h11.2M1179.5,910.0v11.2M1175.6,916.8h11.2M1181.2,911.2v11.2M1179.6,919.6h11.2M1185.2,914.0v11.2M1182.3,921.6h11.2M1187.9,916.0v11.2M1185.7,924.7h11.2M1191.3,919.1v11.2M1188.2,927.6h11.2M1193.8,922.0v11.2M1190.0,929.2h11.2M1195.6,923.6v11.2M1193.0,930.3h11.2M1198.6,924.7v11.2M1196.3,931.5h11.2M1201.9,925.9v11.2M1197.9,932.1h11.2M1203.5,926.5v11.2M1201.5,933.4h11.2M1207.1,927.8v11.2M1203.8,934.8h11.2M1209.4,929.2v11.2M1206.5,936.5h11.2M1212.1,930.9v11.2M1210.5,940.2h11.2M1216.1,934.6v11.2M1215.2,942.5h11.2M1220.8,936.9v11.2M1217.3,942.7h11.2M1222.9,937.1v11.2M1220.8,943.2h11.2M1226.4,937.6v11.2M1224.4,943.6h11.2M1230.0,938.0v11.2M1228.6,944.7h11.2M1234.2,939.1v11.2M1230.4,945.3h11.2M1236.0,939.7v11.2M1234.4,946.6h11.2M1240.0,941.0v11.2M1237.9,947.7h11.2M1243.5,942.1v11.2M1241.9,948.9h11.2M1247.5,943.3v11.2M1245.0,949.8h11.2M1250.6,944.2v11.2M1248.4,950.7h11.2M1254.0,945.1v11.2M1250.6,953.2h11.2M1256.2,947.6v11.2M1254.1,955.4h11.2M1259.7,949.8v11.2M1257.3,955.8h11.2M1262.9,950.2v11.2M1261.7,956.3h11.2M1267.3,950.7v11.2M1265.1,956.8h11.2M1270.7,951.2v11.2M1266.8,957.2h11.2M1272.4,951.6v11.2M1270.2,958.7h11.2M1275.8,953.1v11.2M1273.6,960.1h11.2M1279.2,954.5v11.2M1276.9,961.5h11.2M1282.5,955.9v11.2M1280.7,963.0h11.2M1286.3,957.4v11.2M1284.2,964.2h11.2M1289.8,958.6v11.2M1286.8,965.2h11.2M1292.4,959.6v11.2M1289.6,966.2h11.2M1295.2,960.6v11.2M1293.7,967.6h11.2M1299.3,962.0v11.2M1303.4,968.2h11.2M1309.0,962.6v11.2M1306.1,968.2h11.2M1311.7,962.6v11.2M1311.4,968.2h11.2M1317.0,962.6v11.2M1314.0,968.2h11.2M1319.6,962.6v11.2M1316.6,968.2h11.2M1322.2,962.6v11.2M1319.2,968.2h11.2M1324.8,962.6v11.2M1323.6,968.2h11.2M1329.2,962.6v11.2M1332.4,968.2h11.2M1338.0,962.6v11.2M1341.0,974.3h11.2M1346.6,968.7v11.2M1346.2,974.3h11.2M1351.8,968.7v11.2M1348.8,974.3h11.2M1354.4,968.7v11.2M1351.4,974.3h11.2M1357.0,968.7v11.2M1354.9,974.3h11.2M1360.5,968.7v11.2M1365.4,985.7h11.2M1371.0,980.1v11.2M1377.8,985.7h11.2M1383.4,980.1v11.2M1383.0,985.7h11.2M1388.6,980.1v11.2M1431.3,1002.8h11.2M1436.9,997.2v11.2M1576.5,1026.8h11.2M1582.1,1021.2v11.2" fill="none" stroke="#C8C8C8" stroke-width="1.8"/>
<polyline points="982.7,753.0 994.0,764.3 1001.8,783.5 1006.2,800.1 1014.0,802.7 1019.3,809.6 1022.8,822.7 1029.7,833.2 1036.7,841.0 1045.4,853.2 1055.9,864.5 1062.8,872.4 1071.6,876.7 1080.3,885.5 1092.5,889.8 1104.7,895.0 1113.4,905.5 1123.8,914.2 1128.7,919.7 1134.8,932.7 1146.1,940.6 1147.9,944.1 1161.0,944.9 1162.7,957.1 1174.0,957.1 1181.0,970.2 1196.7,972.0 1198.4,981.6 1208.9,982.4 1212.4,985.9 1276.9,985.9 1280.4,992.0 1297.8,992.0 1299.5,1000.7 1309.1,1000.7 1309.1,1011.2 1319.6,1011.2 1319.6,1021.3 1350.1,1021.3 1350.1,1047.8 1350.1,1047.2 1520.3,1047.2 1520.3,1124.5" fill="none" stroke="#333333" stroke-width="3.4" stroke-linejoin="round" stroke-linecap="butt"/>
<path d="M977.4,751.3h11.2M983.0,745.7v11.2M988.4,762.3h11.2M994.0,756.7v11.2M998.4,789.7h11.2M1004.0,784.1v11.2M1006.4,800.0h11.2M1012.0,794.4v11.2M1009.4,802.0h11.2M1015.0,796.4v11.2M1013.4,807.3h11.2M1019.0,801.7v11.2M1022.1,828.2h11.2M1027.7,822.6v11.2M1025.7,833.0h11.2M1031.3,827.4v11.2M1029.7,837.5h11.2M1035.3,831.9v11.2M1032.4,840.8h11.2M1038.0,835.2v11.2M1035.2,844.8h11.2M1040.8,839.2v11.2M1038.6,849.6h11.2M1044.2,844.0v11.2M1042.0,853.5h11.2M1047.6,847.9v11.2M1043.9,855.7h11.2M1049.5,850.1v11.2M1048.8,861.0h11.2M1054.4,855.4v11.2M1051.8,864.2h11.2M1057.4,858.6v11.2M1055.1,868.0h11.2M1060.7,862.4v11.2M1058.2,870.9h11.2M1063.8,865.3v11.2M1060.6,872.1h11.2M1066.2,866.5v11.2M1063.8,873.7h11.2M1069.4,868.1v11.2M1066.4,875.2h11.2M1072.0,869.6v11.2M1070.7,879.5h11.2M1076.3,873.9v11.2M1072.7,881.5h11.2M1078.3,875.9v11.2M1075.9,883.9h11.2M1081.5,878.3v11.2M1079.4,885.2h11.2M1085.0,879.6v11.2M1082.5,886.3h11.2M1088.1,880.7v11.2M1086.1,887.5h11.2M1091.7,881.9v11.2M1088.7,888.6h11.2M1094.3,883.0v11.2M1091.8,889.9h11.2M1097.4,884.3v11.2M1095.3,891.4h11.2M1100.9,885.8v11.2M1098.4,892.8h11.2M1104.0,887.2v11.2M1102.1,896.7h11.2M1107.7,891.1v11.2M1104.7,899.7h11.2M1110.3,894.1v11.2M1109.5,905.0h11.2M1115.1,899.4v11.2M1112.2,907.2h11.2M1117.8,901.6v11.2M1114.5,909.1h11.2M1120.1,903.5v11.2M1117.9,911.9h11.2M1123.5,906.3v11.2M1121.3,915.6h11.2M1126.9,910.0v11.2M1124.5,920.7h11.2M1130.1,915.1v11.2M1127.2,926.5h11.2M1132.8,920.9v11.2M1131.9,932.6h11.2M1137.5,927.0v11.2M1135.4,935.0h11.2M1141.0,929.4v11.2M1137.5,936.5h11.2M1143.1,930.9v11.2M1140.8,939.0h11.2M1146.4,933.4v11.2M1143.2,942.1h11.2M1148.8,936.5v11.2M1145.2,942.3h11.2M1150.8,936.7v11.2M1150.9,942.7h11.2M1156.5,937.1v11.2M1155.7,945.3h11.2M1161.3,939.7v11.2M1162.4,955.1h11.2M1168.0,949.5v11.2M1165.4,955.1h11.2M1171.0,949.5v11.2M1170.0,958.0h11.2M1175.6,952.4v11.2M1177.8,968.5h11.2M1183.4,962.9v11.2M1181.5,968.9h11.2M1187.1,963.3v11.2M1185.3,969.3h11.2M1190.9,963.7v11.2M1191.5,972.4h11.2M1197.1,966.8v11.2M1195.0,979.7h11.2M1200.6,974.1v11.2M1201.5,980.3h11.2M1207.1,974.7v11.2M1207.8,983.9h11.2M1213.4,978.3v11.2M1214.4,983.9h11.2M1220.0,978.3v11.2M1217.4,983.9h11.2M1223.0,978.3v11.2M1220.4,983.9h11.2M1226.0,978.3v11.2M1223.4,983.9h11.2M1229.0,978.3v11.2M1230.4,983.9h11.2M1236.0,978.3v11.2M1234.4,983.9h11.2M1240.0,978.3v11.2M1239.4,983.9h11.2M1245.0,978.3v11.2M1253.4,983.9h11.2M1259.0,978.3v11.2M1257.4,983.9h11.2M1263.0,978.3v11.2M1267.4,983.9h11.2M1273.0,978.3v11.2M1270.4,983.9h11.2M1276.0,978.3v11.2M1273.4,987.6h11.2M1279.0,982.0v11.2M1276.4,990.0h11.2M1282.0,984.4v11.2M1279.4,990.0h11.2M1285.0,984.4v11.2M1291.4,990.0h11.2M1297.0,984.4v11.2M1295.4,998.7h11.2M1301.0,993.1v11.2M1298.4,998.7h11.2M1304.0,993.1v11.2M1324.4,1019.3h11.2M1330.0,1013.7v11.2M1330.4,1019.3h11.2M1336.0,1013.7v11.2M1356.4,1045.2h11.2M1362.0,1039.6v11.2M1368.4,1045.2h11.2M1374.0,1039.6v11.2M1381.4,1045.2h11.2M1387.0,1039.6v11.2M1383.9,1045.2h11.2M1389.5,1039.6v11.2M1441.0,1045.2h11.2M1446.6,1039.6v11.2" fill="none" stroke="#333333" stroke-width="1.8"/>
<g>
<text transform="translate(10.3 1243)" font-size="33" fill="#000" font-weight="bold">e</text>
<line x1="83.30" y1="1277.50" x2="83.30" y2="1673.85" stroke="#000" stroke-width="2.1"/>
<line x1="82.25" y1="1672.80" x2="833.00" y2="1672.80" stroke="#000" stroke-width="2.1"/>
<line x1="117.00" y1="1672.80" x2="117.00" y2="1678.20" stroke="#000" stroke-width="2.1"/>
<text transform="translate(117.0 1697.0) scale(1 1.12)" font-size="18.7" fill="#000" text-anchor="middle">0</text>
<line x1="183.40" y1="1672.80" x2="183.40" y2="1678.20" stroke="#000" stroke-width="2.1"/>
<text transform="translate(183.4 1697.0) scale(1 1.12)" font-size="18.7" fill="#000" text-anchor="middle">2</text>
<line x1="249.80" y1="1672.80" x2="249.80" y2="1678.20" stroke="#000" stroke-width="2.1"/>
<text transform="translate(249.8 1697.0) scale(1 1.12)" font-size="18.7" fill="#000" text-anchor="middle">4</text>
<line x1="316.20" y1="1672.80" x2="316.20" y2="1678.20" stroke="#000" stroke-width="2.1"/>
<text transform="translate(316.2 1697.0) scale(1 1.12)" font-size="18.7" fill="#000" text-anchor="middle">6</text>
<line x1="382.60" y1="1672.80" x2="382.60" y2="1678.20" stroke="#000" stroke-width="2.1"/>
<text transform="translate(382.6 1697.0) scale(1 1.12)" font-size="18.7" fill="#000" text-anchor="middle">8</text>
<line x1="449.00" y1="1672.80" x2="449.00" y2="1678.20" stroke="#000" stroke-width="2.1"/>
<text transform="translate(449.0 1697.0) scale(1 1.12)" font-size="18.7" fill="#000" text-anchor="middle">10</text>
<line x1="515.40" y1="1672.80" x2="515.40" y2="1678.20" stroke="#000" stroke-width="2.1"/>
<text transform="translate(515.4 1697.0) scale(1 1.12)" font-size="18.7" fill="#000" text-anchor="middle">12</text>
<line x1="581.80" y1="1672.80" x2="581.80" y2="1678.20" stroke="#000" stroke-width="2.1"/>
<text transform="translate(581.8 1697.0) scale(1 1.12)" font-size="18.7" fill="#000" text-anchor="middle">14</text>
<line x1="648.20" y1="1672.80" x2="648.20" y2="1678.20" stroke="#000" stroke-width="2.1"/>
<text transform="translate(648.2 1697.0) scale(1 1.12)" font-size="18.7" fill="#000" text-anchor="middle">16</text>
<line x1="714.60" y1="1672.80" x2="714.60" y2="1678.20" stroke="#000" stroke-width="2.1"/>
<text transform="translate(714.6 1697.0) scale(1 1.12)" font-size="18.7" fill="#000" text-anchor="middle">18</text>
<line x1="781.00" y1="1672.80" x2="781.00" y2="1678.20" stroke="#000" stroke-width="2.1"/>
<text transform="translate(781.0 1697.0) scale(1 1.12)" font-size="18.7" fill="#000" text-anchor="middle">20</text>
<line x1="77.70" y1="1294.75" x2="83.30" y2="1294.75" stroke="#000" stroke-width="2.1"/>
<text transform="translate(72.5 1301.9) scale(1 1.12)" font-size="18.7" fill="#000" text-anchor="end">1.00</text>
<line x1="77.70" y1="1385.00" x2="83.30" y2="1385.00" stroke="#000" stroke-width="2.1"/>
<text transform="translate(72.5 1392.2) scale(1 1.12)" font-size="18.7" fill="#000" text-anchor="end">0.75</text>
<line x1="77.70" y1="1475.00" x2="83.30" y2="1475.00" stroke="#000" stroke-width="2.1"/>
<text transform="translate(72.5 1482.2) scale(1 1.12)" font-size="18.7" fill="#000" text-anchor="end">0.50</text>
<line x1="77.70" y1="1565.10" x2="83.30" y2="1565.10" stroke="#000" stroke-width="2.1"/>
<text transform="translate(72.5 1572.3) scale(1 1.12)" font-size="18.7" fill="#000" text-anchor="end">0.25</text>
<line x1="77.70" y1="1655.20" x2="83.30" y2="1655.20" stroke="#000" stroke-width="2.1"/>
<text transform="translate(72.5 1662.4) scale(1 1.12)" font-size="18.7" fill="#000" text-anchor="end">0.00</text>
<text transform="translate(22.6 1475.3) rotate(-90)" font-size="30.4" fill="#000" text-anchor="middle">Survival probability</text>
<text transform="translate(457.5 1726.7) scale(1 1.05)" font-size="30.4" fill="#000" text-anchor="middle">Years</text>
<line x1="159.00" y1="1231.30" x2="182.50" y2="1231.30" stroke="#1E9BE0" stroke-width="3.3"/>
<path d="M165.2,1229.3h11.2M170.8,1223.7v11.2" fill="none" stroke="#1E9BE0" stroke-width="1.9"/>
<text transform="translate(195.5 1239.4) scale(1 1.05)" font-size="20.3" fill="#000">Intermediate</text>
<line x1="322.00" y1="1231.30" x2="345.50" y2="1231.30" stroke="#5B4FDB" stroke-width="3.3"/>
<path d="M328.1,1229.3h11.2M333.8,1223.7v11.2" fill="none" stroke="#5B4FDB" stroke-width="1.9"/>
<text transform="translate(358.5 1239.4) scale(1 1.05)" font-size="20.3" fill="#000">Low w/ EBV</text>
<line x1="481.00" y1="1231.30" x2="504.50" y2="1231.30" stroke="#C4006C" stroke-width="3.3"/>
<path d="M487.1,1229.3h11.2M492.8,1223.7v11.2" fill="none" stroke="#C4006C" stroke-width="1.9"/>
<text transform="translate(517 1239.4) scale(1 1.05)" font-size="20.3" fill="#000">Low w/o EBV</text>
<line x1="651.00" y1="1231.30" x2="674.50" y2="1231.30" stroke="#FF0000" stroke-width="3.3"/>
<path d="M657.1,1229.3h11.2M662.8,1223.7v11.2" fill="none" stroke="#FF0000" stroke-width="1.9"/>
<text transform="translate(687 1239.4) scale(1 1.05)" font-size="20.3" fill="#000">Very Low</text>
<text transform="translate(793.3 1314) scale(1 1.05)" font-size="20.2" fill="#000" text-anchor="end"><tspan fill="#1E9BE0">Intermediate</tspan><tspan fill="#000"> vs. </tspan><tspan fill="#5B4FDB">Low w/ EBV</tspan><tspan fill="#000">, p = 0.328</tspan></text>
<text transform="translate(793.3 1357.5) scale(1 1.05)" font-size="20.2" fill="#000" text-anchor="end"><tspan fill="#FF0000">Very Low</tspan><tspan fill="#000"> vs. </tspan><tspan fill="#C4006C">Low w/o EBV</tspan><tspan fill="#000">, p = 0.299</tspan></text>
<line x1="117.00" y1="1475.00" x2="516.60" y2="1475.00" stroke="#000" stroke-width="2.1" stroke-dasharray="7.23 7.23"/>
<line x1="287.60" y1="1475.00" x2="287.60" y2="1655.20" stroke="#000" stroke-width="2.1" stroke-dasharray="7.23 7.23"/>
<line x1="291.10" y1="1475.00" x2="291.10" y2="1655.20" stroke="#000" stroke-width="2.1" stroke-dasharray="7.23 7.23"/>
<line x1="403.80" y1="1475.00" x2="403.80" y2="1655.20" stroke="#000" stroke-width="2.1" stroke-dasharray="7.23 7.23"/>
<polyline points="120.9,1302.2 127.9,1305.0 130.7,1316.2 137.7,1323.1 146.0,1332.9 151.6,1344.1 154.4,1355.2 157.2,1362.2 161.4,1365.0 162.8,1371.9 168.3,1381.7 175.3,1387.3 180.9,1388.7 183.7,1397.0 189.2,1402.6 192.7,1410.3 197.6,1413.8 206.0,1415.9 211.6,1419.4 221.3,1422.1 224.1,1429.1 229.7,1433.3 231.8,1440.3 239.5,1441.7 240.0,1440.5 246.9,1450.2 255.3,1459.9 265.0,1464.8 271.9,1468.3 277.5,1473.1 287.2,1473.8 292.7,1483.5 302.5,1484.9 312.2,1489.1 321.2,1493.2 321.9,1501.6 326.1,1507.1 327.4,1510.6 362.1,1510.6 364.9,1516.8 371.9,1518.2 373.2,1522.4 380.2,1523.8 381.6,1529.3 420.4,1529.3 424.6,1539.0 424.6,1538.4 473.4,1538.4 473.4,1558.4 483.4,1558.4 483.4,1577.6 753.1,1577.6 753.1,1655.0" fill="none" stroke="#1E9BE0" stroke-width="3.4" stroke-linejoin="round" stroke-linecap="butt"/>
<path d="M119.3,1301.8h11.2M124.9,1296.2v11.2M122.1,1302.9h11.2M127.7,1297.3v11.2M126.9,1316.0h11.2M132.5,1310.4v11.2M132.0,1321.1h11.2M137.6,1315.5v11.2M140.0,1330.4h11.2M145.6,1324.8v11.2M144.6,1339.3h11.2M150.2,1333.7v11.2M147.0,1346.0h11.2M152.6,1340.4v11.2M154.7,1362.3h11.2M160.3,1356.7v11.2M160.3,1375.5h11.2M165.9,1369.9v11.2M164.0,1380.7h11.2M169.6,1375.1v11.2M167.8,1383.8h11.2M173.4,1378.2v11.2M173.6,1386.3h11.2M179.2,1380.7v11.2M176.9,1391.6h11.2M182.5,1386.0v11.2M181.5,1398.4h11.2M187.1,1392.8v11.2M190.3,1410.5h11.2M195.9,1404.9v11.2M194.0,1412.3h11.2M199.6,1406.7v11.2M198.5,1413.4h11.2M204.1,1407.8v11.2M205.1,1416.8h11.2M210.7,1411.2v11.2M208.1,1418.0h11.2M213.7,1412.4v11.2M214.9,1419.9h11.2M220.5,1414.3v11.2M219.7,1428.0h11.2M225.3,1422.4v11.2M222.2,1429.9h11.2M227.8,1424.3v11.2M227.4,1438.5h11.2M233.0,1432.9v11.2M232.6,1439.4h11.2M238.2,1433.8v11.2M237.4,1442.6h11.2M243.0,1437.0v11.2M243.7,1451.0h11.2M249.3,1445.4v11.2M247.4,1455.3h11.2M253.0,1449.7v11.2M253.1,1459.6h11.2M258.7,1454.0v11.2M256.9,1461.6h11.2M262.5,1456.0v11.2M265.0,1465.6h11.2M270.6,1460.0v11.2M267.8,1467.6h11.2M273.4,1462.0v11.2M273.2,1471.2h11.2M278.8,1465.6v11.2M278.7,1471.6h11.2M284.3,1466.0v11.2M285.0,1477.8h11.2M290.6,1472.2v11.2M288.1,1481.7h11.2M293.7,1476.1v11.2M295.1,1482.7h11.2M300.7,1477.1v11.2M299.4,1484.0h11.2M305.0,1478.4v11.2M304.4,1486.1h11.2M310.0,1480.5v11.2M312.4,1489.8h11.2M318.0,1484.2v11.2M318.4,1502.4h11.2M324.0,1496.8v11.2M324.4,1508.6h11.2M330.0,1503.0v11.2M340.4,1508.6h11.2M346.0,1503.0v11.2M342.4,1508.6h11.2M348.0,1503.0v11.2M356.4,1508.6h11.2M362.0,1503.0v11.2M358.4,1512.8h11.2M364.0,1507.2v11.2M366.4,1516.7h11.2M372.0,1511.1v11.2M370.4,1520.9h11.2M376.0,1515.3v11.2M378.4,1527.3h11.2M384.0,1521.7v11.2M385.4,1527.3h11.2M391.0,1521.7v11.2M389.4,1527.3h11.2M395.0,1521.7v11.2M392.4,1527.3h11.2M398.0,1521.7v11.2M415.4,1528.7h11.2M421.0,1523.1v11.2M418.4,1535.7h11.2M424.0,1530.1v11.2M421.4,1536.4h11.2M427.0,1530.8v11.2M425.4,1536.4h11.2M431.0,1530.8v11.2M430.4,1536.4h11.2M436.0,1530.8v11.2M432.4,1536.4h11.2M438.0,1530.8v11.2M436.4,1536.4h11.2M442.0,1530.8v11.2M438.4,1536.4h11.2M444.0,1530.8v11.2M491.0,1575.6h11.2M496.6,1570.0v11.2M505.9,1575.6h11.2M511.5,1570.0v11.2M561.3,1575.6h11.2M566.9,1570.0v11.2" fill="none" stroke="#1E9BE0" stroke-width="1.8"/>
<polyline points="120.9,1299.4 125.1,1303.6 126.5,1320.3 130.7,1321.0 131.4,1326.6 137.7,1326.6 138.3,1339.2 148.8,1339.2 150.2,1345.4 154.4,1351.0 171.1,1351.7 172.5,1357.3 184.4,1358.0 187.9,1377.5 192.7,1378.2 193.4,1383.8 211.6,1382.4 213.0,1388.7 217.1,1390.1 218.5,1397.0 238.1,1397.0 239.5,1410.3 256.9,1411.0 259.0,1434.7 261.8,1436.1 262.2,1440.5 262.9,1450.9 275.4,1451.6 276.1,1458.5 290.0,1458.5 291.4,1475.2 292.0,1478.7 301.1,1478.7 302.5,1486.3 308.7,1486.3 309.4,1508.5 319.1,1508.5 319.8,1520.3 337.2,1520.3 337.8,1533.2 404.5,1533.2 405.2,1564.0 405.2,1563.4 484.7,1563.4" fill="none" stroke="#5B4FDB" stroke-width="3.4" stroke-linejoin="round" stroke-linecap="butt"/>
<path d="M122.4,1318.6h11.2M128.0,1313.0v11.2M126.4,1324.6h11.2M132.0,1319.0v11.2M129.4,1324.6h11.2M135.0,1319.0v11.2M144.4,1342.5h11.2M150.0,1336.9v11.2M169.4,1355.4h11.2M175.0,1349.8v11.2M172.4,1355.6h11.2M178.0,1350.0v11.2M199.4,1380.9h11.2M205.0,1375.3v11.2M202.4,1380.7h11.2M208.0,1375.1v11.2M205.4,1380.4h11.2M211.0,1374.8v11.2M213.4,1395.0h11.2M219.0,1389.4v11.2M220.4,1395.0h11.2M226.0,1389.4v11.2M241.4,1408.6h11.2M247.0,1403.0v11.2M246.4,1408.8h11.2M252.0,1403.2v11.2M251.4,1410.3h11.2M257.0,1404.7v11.2M256.4,1436.4h11.2M262.0,1430.8v11.2M274.4,1456.5h11.2M280.0,1450.9v11.2M279.4,1456.5h11.2M285.0,1450.9v11.2M284.4,1457.0h11.2M290.0,1451.4v11.2M287.4,1476.7h11.2M293.0,1471.1v11.2M293.4,1476.7h11.2M299.0,1471.1v11.2M302.4,1484.3h11.2M308.0,1478.7v11.2M314.4,1518.3h11.2M320.0,1512.7v11.2M317.4,1518.3h11.2M323.0,1512.7v11.2M331.4,1518.3h11.2M337.0,1512.7v11.2M346.4,1531.2h11.2M352.0,1525.6v11.2M348.4,1531.2h11.2M354.0,1525.6v11.2M379.4,1531.2h11.2M385.0,1525.6v11.2M384.4,1531.2h11.2M390.0,1525.6v11.2M391.4,1531.2h11.2M397.0,1525.6v11.2M397.4,1531.2h11.2M403.0,1525.6v11.2M403.4,1561.4h11.2M409.0,1555.8v11.2M421.4,1561.4h11.2M427.0,1555.8v11.2M479.1,1561.4h11.2M484.7,1555.8v11.2" fill="none" stroke="#5B4FDB" stroke-width="1.8"/>
<polyline points="116.0,1299.4 127.9,1299.4 129.3,1304.3 137.7,1305.7 140.4,1306.4 146.0,1309.2 148.8,1315.5 153.7,1321.0 161.4,1322.4 165.5,1327.3 171.1,1331.5 178.1,1332.9 185.1,1335.7 187.9,1342.7 193.4,1346.8 201.8,1348.2 208.8,1350.3 213.0,1352.4 225.5,1352.4 228.3,1358.7 235.3,1362.9 242.2,1365.7 245.0,1372.6 252.0,1373.3 264.6,1373.3 274.3,1374.7 278.5,1381.7 281.3,1391.5 285.5,1397.0 291.0,1398.4 292.4,1404.7 298.0,1408.2 303.6,1411.0 306.4,1415.9 312.0,1420.8 314.8,1427.0 319.6,1428.4 320.0,1425.6 321.4,1436.8 332.6,1438.2 338.1,1443.7 339.5,1457.7 380.0,1457.7 382.8,1465.3 395.3,1465.3 396.7,1471.6 403.7,1473.0 403.7,1480.0 464.3,1480.0 464.3,1494.6 464.4,1494.0 560.3,1494.0 560.3,1547.6 833.0,1547.6" fill="none" stroke="#C4006C" stroke-width="3.4" stroke-linejoin="round" stroke-linecap="butt"/>
<path d="M123.5,1301.6h11.2M129.1,1296.0v11.2M127.5,1302.9h11.2M133.1,1297.3v11.2M130.7,1303.5h11.2M136.3,1297.9v11.2M135.5,1304.7h11.2M141.1,1299.1v11.2M139.4,1306.7h11.2M145.0,1301.1v11.2M145.7,1316.3h11.2M151.3,1310.7v11.2M149.5,1319.3h11.2M155.1,1313.7v11.2M154.7,1320.3h11.2M160.3,1314.7v11.2M157.9,1322.9h11.2M163.5,1317.3v11.2M162.1,1326.9h11.2M167.7,1321.3v11.2M168.3,1330.1h11.2M173.9,1324.5v11.2M173.4,1331.2h11.2M179.0,1325.6v11.2M177.5,1332.9h11.2M183.1,1327.3v11.2M181.8,1339.6h11.2M187.4,1334.0v11.2M186.4,1343.7h11.2M192.0,1338.1v11.2M190.6,1345.3h11.2M196.2,1339.7v11.2M193.6,1345.8h11.2M199.2,1340.2v11.2M199.0,1347.1h11.2M204.6,1341.5v11.2M203.0,1348.3h11.2M208.6,1342.7v11.2M206.5,1350.0h11.2M212.1,1344.4v11.2M211.0,1350.4h11.2M216.6,1344.8v11.2M216.2,1350.4h11.2M221.8,1344.8v11.2M220.7,1352.2h11.2M226.3,1346.6v11.2M226.5,1359.0h11.2M232.1,1353.4v11.2M231.8,1361.7h11.2M237.4,1356.1v11.2M234.7,1362.9h11.2M240.3,1357.3v11.2M240.7,1370.8h11.2M246.3,1365.2v11.2M245.4,1371.2h11.2M251.0,1365.6v11.2M249.8,1371.3h11.2M255.4,1365.7v11.2M252.5,1371.3h11.2M258.1,1365.7v11.2M256.6,1371.3h11.2M262.2,1365.7v11.2M261.1,1371.6h11.2M266.7,1366.0v11.2M265.5,1372.3h11.2M271.1,1366.7v11.2M270.0,1374.9h11.2M275.6,1369.3v11.2M275.8,1389.6h11.2M281.4,1384.0v11.2M281.1,1395.4h11.2M286.7,1389.8v11.2M285.4,1396.4h11.2M291.0,1390.8v11.2M288.8,1404.0h11.2M294.4,1398.4v11.2M293.9,1406.9h11.2M299.5,1401.3v11.2M295.0,1407.5h11.2M300.6,1401.9v11.2M296.6,1408.3h11.2M302.2,1402.7v11.2M300.7,1413.8h11.2M306.3,1408.2v11.2M304.2,1416.9h11.2M309.8,1411.3v11.2M307.0,1420.1h11.2M312.6,1414.5v11.2M309.9,1425.2h11.2M315.5,1419.6v11.2M312.4,1425.9h11.2M318.0,1420.3v11.2M314.8,1426.5h11.2M320.4,1420.9v11.2M319.0,1435.2h11.2M324.6,1429.6v11.2M321.1,1435.4h11.2M326.7,1429.8v11.2M325.0,1435.9h11.2M330.6,1430.3v11.2M328.3,1437.5h11.2M333.9,1431.9v11.2M330.2,1439.4h11.2M335.8,1433.8v11.2M333.2,1448.5h11.2M338.8,1442.9v11.2M337.3,1455.7h11.2M342.9,1450.1v11.2M337.4,1455.7h11.2M343.0,1450.1v11.2M340.4,1455.7h11.2M346.0,1450.1v11.2M343.4,1455.7h11.2M349.0,1450.1v11.2M346.4,1455.7h11.2M352.0,1450.1v11.2M350.4,1455.7h11.2M356.0,1450.1v11.2M353.4,1455.7h11.2M359.0,1450.1v11.2M356.4,1455.7h11.2M362.0,1450.1v11.2M360.4,1455.7h11.2M366.0,1450.1v11.2M365.4,1455.7h11.2M371.0,1450.1v11.2M368.4,1455.7h11.2M374.0,1450.1v11.2M374.4,1455.8h11.2M380.0,1450.2v11.2M386.4,1463.3h11.2M392.0,1457.7v11.2M392.4,1469.9h11.2M398.0,1464.3v11.2M398.4,1478.0h11.2M404.0,1472.4v11.2M400.4,1478.0h11.2M406.0,1472.4v11.2M410.4,1478.0h11.2M416.0,1472.4v11.2M412.4,1478.0h11.2M418.0,1472.4v11.2M415.4,1478.0h11.2M421.0,1472.4v11.2M428.4,1478.0h11.2M434.0,1472.4v11.2M442.4,1478.0h11.2M448.0,1472.4v11.2M444.4,1478.0h11.2M450.0,1472.4v11.2M463.4,1492.0h11.2M469.0,1486.4v11.2M470.4,1492.0h11.2M476.0,1486.4v11.2M477.4,1492.0h11.2M483.0,1486.4v11.2M487.4,1492.0h11.2M493.0,1486.4v11.2M498.4,1492.0h11.2M504.0,1486.4v11.2M551.5,1492.0h11.2M557.1,1486.4v11.2M693.1,1545.6h11.2M698.7,1540.0v11.2" fill="none" stroke="#C4006C" stroke-width="1.8"/>
<polyline points="116.0,1294.1 126.5,1294.1 127.9,1298.7 137.7,1299.4 140.4,1306.4 146.0,1309.2 148.8,1315.5 153.7,1319.2 208.8,1319.2 210.2,1324.5 225.5,1324.5 228.3,1328.7 233.9,1329.4 236.0,1335.0 239.5,1336.4 240.8,1340.6 246.4,1342.7 247.8,1348.2 252.0,1349.6 253.4,1358.0 256.2,1363.6 257.6,1370.5 264.6,1373.3 267.3,1378.9 270.1,1384.5 274.3,1387.3 275.7,1391.5 281.3,1392.9 292.4,1394.3 293.8,1399.8 306.4,1401.2 307.8,1411.0 318.9,1411.0 320.0,1409.6 320.0,1405.6 322.8,1414.0 324.2,1422.3 357.6,1422.3 357.6,1434.2 444.1,1434.2 444.1,1458.5 516.6,1458.5 516.6,1655.0" fill="none" stroke="#FF0000" stroke-width="3.4" stroke-linejoin="round" stroke-linecap="butt"/>
<path d="M113.4,1292.1h11.2M119.0,1286.5v11.2M117.4,1292.1h11.2M123.0,1286.5v11.2M120.4,1292.1h11.2M126.0,1286.5v11.2M124.4,1296.9h11.2M130.0,1291.3v11.2M127.4,1297.1h11.2M133.0,1291.5v11.2M131.4,1297.4h11.2M137.0,1291.8v11.2M157.4,1317.2h11.2M163.0,1311.6v11.2M160.4,1317.2h11.2M166.0,1311.6v11.2M173.4,1317.2h11.2M179.0,1311.6v11.2M183.4,1317.2h11.2M189.0,1311.6v11.2M193.4,1317.2h11.2M199.0,1311.6v11.2M200.4,1317.2h11.2M206.0,1311.6v11.2M203.4,1318.1h11.2M209.0,1312.5v11.2M214.4,1322.5h11.2M220.0,1316.9v11.2M219.4,1322.5h11.2M225.0,1316.9v11.2M223.4,1326.8h11.2M229.0,1321.2v11.2M240.4,1340.5h11.2M246.0,1334.9v11.2M243.4,1346.6h11.2M249.0,1341.0v11.2M246.4,1347.6h11.2M252.0,1342.0v11.2M249.4,1359.2h11.2M255.0,1353.6v11.2M256.4,1370.3h11.2M262.0,1364.7v11.2M259.4,1372.2h11.2M265.0,1366.6v11.2M269.4,1387.3h11.2M275.0,1381.7v11.2M273.4,1390.3h11.2M279.0,1384.7v11.2M277.4,1391.1h11.2M283.0,1385.5v11.2M280.4,1391.4h11.2M286.0,1385.8v11.2M283.4,1391.8h11.2M289.0,1386.2v11.2M290.4,1398.1h11.2M296.0,1392.5v11.2M293.4,1398.4h11.2M299.0,1392.8v11.2M297.4,1398.9h11.2M303.0,1393.3v11.2M300.4,1399.2h11.2M306.0,1393.6v11.2M303.4,1409.0h11.2M309.0,1403.4v11.2M306.4,1409.0h11.2M312.0,1403.4v11.2M314.4,1407.6h11.2M320.0,1402.0v11.2M326.4,1420.3h11.2M332.0,1414.7v11.2M328.4,1420.3h11.2M334.0,1414.7v11.2M340.4,1420.3h11.2M346.0,1414.7v11.2M351.4,1420.3h11.2M357.0,1414.7v11.2M356.4,1432.2h11.2M362.0,1426.6v11.2M359.4,1432.2h11.2M365.0,1426.6v11.2M362.4,1432.2h11.2M368.0,1426.6v11.2M381.4,1432.2h11.2M387.0,1426.6v11.2M387.4,1432.2h11.2M393.0,1426.6v11.2M390.4,1432.2h11.2M396.0,1426.6v11.2M392.4,1432.2h11.2M398.0,1426.6v11.2M394.4,1432.2h11.2M400.0,1426.6v11.2M396.4,1432.2h11.2M402.0,1426.6v11.2M416.4,1432.2h11.2M422.0,1426.6v11.2M419.4,1432.2h11.2M425.0,1426.6v11.2M427.4,1432.2h11.2M433.0,1426.6v11.2M448.4,1456.5h11.2M454.0,1450.9v11.2M454.4,1456.5h11.2M460.0,1450.9v11.2M465.4,1456.5h11.2M471.0,1450.9v11.2M468.4,1456.5h11.2M474.0,1450.9v11.2M471.4,1456.5h11.2M477.0,1450.9v11.2M473.4,1456.5h11.2M479.0,1450.9v11.2M503.4,1456.5h11.2M509.0,1450.9v11.2" fill="none" stroke="#FF0000" stroke-width="1.8"/>
<line x1="516.60" y1="1475.00" x2="516.60" y2="1655.20" stroke="#000" stroke-width="2.1" stroke-dasharray="7.23 7.23"/>
</g>
<g>
<text transform="translate(885.6 1244.8)" font-size="36" fill="#000" font-weight="bold">f</text>
<line x1="945.00" y1="1277.50" x2="945.00" y2="1673.85" stroke="#000" stroke-width="2.1"/>
<line x1="943.95" y1="1672.80" x2="1691.50" y2="1672.80" stroke="#000" stroke-width="2.1"/>
<line x1="978.50" y1="1672.80" x2="978.50" y2="1678.20" stroke="#000" stroke-width="2.1"/>
<text transform="translate(978.5 1697.0) scale(1 1.12)" font-size="18.7" fill="#000" text-anchor="middle">0</text>
<line x1="1044.66" y1="1672.80" x2="1044.66" y2="1678.20" stroke="#000" stroke-width="2.1"/>
<text transform="translate(1044.7 1697.0) scale(1 1.12)" font-size="18.7" fill="#000" text-anchor="middle">2</text>
<line x1="1110.82" y1="1672.80" x2="1110.82" y2="1678.20" stroke="#000" stroke-width="2.1"/>
<text transform="translate(1110.8 1697.0) scale(1 1.12)" font-size="18.7" fill="#000" text-anchor="middle">4</text>
<line x1="1176.98" y1="1672.80" x2="1176.98" y2="1678.20" stroke="#000" stroke-width="2.1"/>
<text transform="translate(1177.0 1697.0) scale(1 1.12)" font-size="18.7" fill="#000" text-anchor="middle">6</text>
<line x1="1243.14" y1="1672.80" x2="1243.14" y2="1678.20" stroke="#000" stroke-width="2.1"/>
<text transform="translate(1243.1 1697.0) scale(1 1.12)" font-size="18.7" fill="#000" text-anchor="middle">8</text>
<line x1="1309.30" y1="1672.80" x2="1309.30" y2="1678.20" stroke="#000" stroke-width="2.1"/>
<text transform="translate(1309.3 1697.0) scale(1 1.12)" font-size="18.7" fill="#000" text-anchor="middle">10</text>
<line x1="1375.46" y1="1672.80" x2="1375.46" y2="1678.20" stroke="#000" stroke-width="2.1"/>
<text transform="translate(1375.5 1697.0) scale(1 1.12)" font-size="18.7" fill="#000" text-anchor="middle">12</text>
<line x1="1441.62" y1="1672.80" x2="1441.62" y2="1678.20" stroke="#000" stroke-width="2.1"/>
<text transform="translate(1441.6 1697.0) scale(1 1.12)" font-size="18.7" fill="#000" text-anchor="middle">14</text>
<line x1="1507.78" y1="1672.80" x2="1507.78" y2="1678.20" stroke="#000" stroke-width="2.1"/>
<text transform="translate(1507.8 1697.0) scale(1 1.12)" font-size="18.7" fill="#000" text-anchor="middle">16</text>
<line x1="1573.94" y1="1672.80" x2="1573.94" y2="1678.20" stroke="#000" stroke-width="2.1"/>
<text transform="translate(1573.9 1697.0) scale(1 1.12)" font-size="18.7" fill="#000" text-anchor="middle">18</text>
<line x1="1640.10" y1="1672.80" x2="1640.10" y2="1678.20" stroke="#000" stroke-width="2.1"/>
<text transform="translate(1640.1 1697.0) scale(1 1.12)" font-size="18.7" fill="#000" text-anchor="middle">20</text>
<line x1="939.40" y1="1296.00" x2="945.00" y2="1296.00" stroke="#000" stroke-width="2.1"/>
<text transform="translate(932.5 1303.2) scale(1 1.12)" font-size="18.7" fill="#000" text-anchor="end">1.00</text>
<line x1="939.40" y1="1385.60" x2="945.00" y2="1385.60" stroke="#000" stroke-width="2.1"/>
<text transform="translate(932.5 1392.8) scale(1 1.12)" font-size="18.7" fill="#000" text-anchor="end">0.75</text>
<line x1="939.40" y1="1475.50" x2="945.00" y2="1475.50" stroke="#000" stroke-width="2.1"/>
<text transform="translate(932.5 1482.7) scale(1 1.12)" font-size="18.7" fill="#000" text-anchor="end">0.50</text>
<line x1="939.40" y1="1565.00" x2="945.00" y2="1565.00" stroke="#000" stroke-width="2.1"/>
<text transform="translate(932.5 1572.2) scale(1 1.12)" font-size="18.7" fill="#000" text-anchor="end">0.25</text>
<line x1="939.40" y1="1654.60" x2="945.00" y2="1654.60" stroke="#000" stroke-width="2.1"/>
<text transform="translate(932.5 1661.8) scale(1 1.12)" font-size="18.7" fill="#000" text-anchor="end">0.00</text>
<text transform="translate(884.1 1475.3) rotate(-90)" font-size="30.4" fill="#000" text-anchor="middle">Survival probability</text>
<text transform="translate(1317.5 1726.7) scale(1 1.05)" font-size="30.4" fill="#000" text-anchor="middle">Years</text>
<line x1="1141.50" y1="1233.50" x2="1165.00" y2="1233.50" stroke="#1E9BE0" stroke-width="3.3"/>
<path d="M1147.7,1231.5h11.2M1153.2,1225.9v11.2" fill="none" stroke="#1E9BE0" stroke-width="1.9"/>
<text transform="translate(1178 1241.6000000000001) scale(1 1.05)" font-size="20.3" fill="#000">Intermediate</text>
<line x1="1303.50" y1="1233.50" x2="1327.00" y2="1233.50" stroke="#9400D3" stroke-width="3.3"/>
<path d="M1309.7,1231.5h11.2M1315.2,1225.9v11.2" fill="none" stroke="#9400D3" stroke-width="1.9"/>
<text transform="translate(1339.5 1241.6000000000001) scale(1 1.05)" font-size="20.3" fill="#000">Low</text>
<line x1="1390.00" y1="1233.50" x2="1413.50" y2="1233.50" stroke="#FF0000" stroke-width="3.3"/>
<path d="M1396.2,1231.5h11.2M1401.8,1225.9v11.2" fill="none" stroke="#FF0000" stroke-width="1.9"/>
<text transform="translate(1425.5 1241.6000000000001) scale(1 1.05)" font-size="20.3" fill="#000">Very Low</text>
<text transform="translate(1655.4 1316) scale(1 1.05)" font-size="20.08" fill="#000" text-anchor="end"><tspan fill="#1E9BE0">Intermediate</tspan><tspan fill="#000"> vs. </tspan><tspan fill="#9400D3">Low</tspan><tspan fill="#000">, p = 0.002</tspan></text>
<text transform="translate(1655.4 1359) scale(1 1.05)" font-size="20.08" fill="#000" text-anchor="end"><tspan fill="#9400D3">Low</tspan><tspan fill="#000"> vs. </tspan><tspan fill="#FF0000">Very Low</tspan><tspan fill="#000">, p = 0.098</tspan></text>
<line x1="978.50" y1="1475.50" x2="1377.60" y2="1475.50" stroke="#000" stroke-width="2.1" stroke-dasharray="7.23 7.23"/>
<line x1="1148.70" y1="1475.50" x2="1148.70" y2="1654.60" stroke="#000" stroke-width="2.1" stroke-dasharray="7.23 7.23"/>
<line x1="1201.20" y1="1475.50" x2="1201.20" y2="1654.60" stroke="#000" stroke-width="2.1" stroke-dasharray="7.23 7.23"/>
<polyline points="982.2,1303.2 989.2,1306.0 992.0,1317.2 999.0,1324.1 1007.3,1333.9 1012.9,1345.1 1015.7,1356.2 1018.5,1363.2 1022.7,1366.0 1024.1,1372.9 1029.6,1382.7 1036.6,1388.3 1042.2,1389.7 1045.0,1398.0 1050.5,1403.6 1054.0,1411.3 1058.9,1414.8 1067.3,1416.9 1072.9,1420.4 1082.6,1423.1 1085.4,1430.1 1091.0,1434.3 1093.1,1441.3 1100.8,1442.7 1101.3,1441.5 1108.2,1451.2 1116.6,1460.9 1126.3,1465.8 1133.2,1469.3 1138.8,1474.1 1148.5,1474.8 1154.0,1484.5 1163.8,1485.9 1173.5,1490.1 1182.5,1494.2 1183.2,1502.6 1187.4,1508.1 1188.7,1511.6 1223.4,1511.6 1226.2,1517.8 1233.2,1519.2 1234.5,1523.4 1241.5,1524.8 1242.9,1530.3 1281.7,1530.3 1285.9,1540.0 1285.9,1539.4 1334.7,1539.4 1334.7,1559.4 1344.7,1559.4 1344.7,1578.6 1614.4,1578.6 1614.4,1656.0" fill="none" stroke="#1E9BE0" stroke-width="3.4" stroke-linejoin="round" stroke-linecap="butt"/>
<path d="M980.6,1302.8h11.2M986.2,1297.2v11.2M983.4,1303.9h11.2M989.0,1298.3v11.2M988.2,1317.0h11.2M993.8,1311.4v11.2M993.3,1322.1h11.2M998.9,1316.5v11.2M1001.3,1331.4h11.2M1006.9,1325.8v11.2M1005.9,1340.3h11.2M1011.5,1334.7v11.2M1008.3,1347.0h11.2M1013.9,1341.4v11.2M1016.0,1363.3h11.2M1021.6,1357.7v11.2M1021.6,1376.5h11.2M1027.2,1370.9v11.2M1025.3,1381.7h11.2M1030.9,1376.1v11.2M1029.1,1384.8h11.2M1034.7,1379.2v11.2M1034.9,1387.3h11.2M1040.5,1381.7v11.2M1038.2,1392.6h11.2M1043.8,1387.0v11.2M1042.8,1399.4h11.2M1048.4,1393.8v11.2M1051.6,1411.5h11.2M1057.2,1405.9v11.2M1055.3,1413.3h11.2M1060.9,1407.7v11.2M1059.8,1414.4h11.2M1065.4,1408.8v11.2M1066.4,1417.8h11.2M1072.0,1412.2v11.2M1069.4,1419.0h11.2M1075.0,1413.4v11.2M1076.2,1420.9h11.2M1081.8,1415.3v11.2M1081.0,1429.0h11.2M1086.6,1423.4v11.2M1083.5,1430.9h11.2M1089.1,1425.3v11.2M1088.7,1439.5h11.2M1094.3,1433.9v11.2M1093.9,1440.4h11.2M1099.5,1434.8v11.2M1098.7,1443.6h11.2M1104.3,1438.0v11.2M1105.0,1452.0h11.2M1110.6,1446.4v11.2M1108.7,1456.3h11.2M1114.3,1450.7v11.2M1114.4,1460.6h11.2M1120.0,1455.0v11.2M1118.2,1462.6h11.2M1123.8,1457.0v11.2M1126.3,1466.6h11.2M1131.9,1461.0v11.2M1129.1,1468.6h11.2M1134.7,1463.0v11.2M1134.5,1472.2h11.2M1140.1,1466.6v11.2M1140.0,1472.6h11.2M1145.6,1467.0v11.2M1146.3,1478.8h11.2M1151.9,1473.2v11.2M1149.4,1482.7h11.2M1155.0,1477.1v11.2M1156.4,1483.7h11.2M1162.0,1478.1v11.2M1160.7,1485.0h11.2M1166.3,1479.4v11.2M1165.7,1487.1h11.2M1171.3,1481.5v11.2M1173.7,1490.8h11.2M1179.3,1485.2v11.2M1179.7,1503.4h11.2M1185.3,1497.8v11.2M1185.7,1509.6h11.2M1191.3,1504.0v11.2M1201.7,1509.6h11.2M1207.3,1504.0v11.2M1203.7,1509.6h11.2M1209.3,1504.0v11.2M1217.7,1509.6h11.2M1223.3,1504.0v11.2M1219.7,1513.8h11.2M1225.3,1508.2v11.2M1227.7,1517.7h11.2M1233.3,1512.1v11.2M1231.7,1521.9h11.2M1237.3,1516.3v11.2M1239.7,1528.3h11.2M1245.3,1522.7v11.2M1246.7,1528.3h11.2M1252.3,1522.7v11.2M1250.7,1528.3h11.2M1256.3,1522.7v11.2M1253.7,1528.3h11.2M1259.3,1522.7v11.2M1276.7,1529.7h11.2M1282.3,1524.1v11.2M1279.7,1536.7h11.2M1285.3,1531.1v11.2M1282.7,1537.4h11.2M1288.3,1531.8v11.2M1286.7,1537.4h11.2M1292.3,1531.8v11.2M1291.7,1537.4h11.2M1297.3,1531.8v11.2M1293.7,1537.4h11.2M1299.3,1531.8v11.2M1297.7,1537.4h11.2M1303.3,1531.8v11.2M1299.7,1537.4h11.2M1305.3,1531.8v11.2M1352.3,1576.6h11.2M1357.9,1571.0v11.2M1367.2,1576.6h11.2M1372.8,1571.0v11.2M1422.6,1576.6h11.2M1428.2,1571.0v11.2" fill="none" stroke="#1E9BE0" stroke-width="1.8"/>
<polyline points="978.1,1300.8 987.9,1305.0 990.7,1311.3 1001.8,1314.8 1011.6,1319.0 1014.4,1328.7 1018.6,1331.5 1026.9,1332.2 1033.9,1338.5 1043.7,1341.3 1049.2,1346.8 1052.0,1355.2 1056.2,1358.7 1066.0,1359.4 1075.7,1362.2 1085.5,1365.0 1089.7,1370.5 1098.1,1374.0 1102.2,1378.9 1107.8,1383.8 1117.6,1383.8 1121.8,1390.1 1127.3,1395.0 1135.7,1396.3 1138.5,1402.6 1144.1,1411.0 1151.0,1415.2 1155.2,1423.5 1160.8,1427.7 1167.8,1431.9 1172.0,1438.9 1174.8,1445.9 1179.6,1448.6 1180.0,1446.5 1184.2,1459.1 1195.3,1460.5 1199.5,1467.4 1201.6,1478.6 1242.8,1478.6 1244.1,1484.2 1255.3,1484.2 1258.1,1489.7 1263.7,1489.7 1266.5,1500.9 1325.0,1500.9 1325.0,1512.8 1419.2,1512.8 1419.2,1512.3 1419.2,1559.8 1691.5,1559.8" fill="none" stroke="#9400D3" stroke-width="3.4" stroke-linejoin="round" stroke-linecap="butt"/>
<path d="M982.4,1303.3h11.2M988.0,1297.7v11.2M985.7,1309.5h11.2M991.3,1303.9v11.2M988.9,1310.5h11.2M994.5,1304.9v11.2M990.8,1311.1h11.2M996.4,1305.5v11.2M995.1,1312.4h11.2M1000.7,1306.8v11.2M997.6,1313.4h11.2M1003.2,1307.8v11.2M1000.4,1314.5h11.2M1006.0,1308.9v11.2M1005.5,1316.8h11.2M1011.1,1311.2v11.2M1007.2,1321.1h11.2M1012.8,1315.5v11.2M1011.1,1328.3h11.2M1016.7,1322.7v11.2M1015.0,1329.7h11.2M1020.6,1324.1v11.2M1017.7,1329.9h11.2M1023.3,1324.3v11.2M1020.4,1330.1h11.2M1026.0,1324.5v11.2M1024.0,1332.6h11.2M1029.6,1327.0v11.2M1027.3,1335.6h11.2M1032.9,1330.0v11.2M1031.1,1337.3h11.2M1036.7,1331.7v11.2M1032.6,1337.7h11.2M1038.2,1332.1v11.2M1037.0,1338.9h11.2M1042.6,1333.3v11.2M1039.4,1340.6h11.2M1045.0,1335.0v11.2M1042.6,1343.8h11.2M1048.2,1338.2v11.2M1047.1,1353.7h11.2M1052.7,1348.1v11.2M1049.6,1355.9h11.2M1055.2,1350.3v11.2M1053.0,1356.9h11.2M1058.6,1351.3v11.2M1056.6,1357.1h11.2M1062.2,1351.5v11.2M1060.2,1357.4h11.2M1065.8,1351.8v11.2M1062.3,1357.9h11.2M1067.9,1352.3v11.2M1065.9,1359.0h11.2M1071.5,1353.4v11.2M1068.8,1359.8h11.2M1074.4,1354.2v11.2M1072.0,1360.7h11.2M1077.6,1355.1v11.2M1075.7,1361.8h11.2M1081.3,1356.2v11.2M1078.3,1362.5h11.2M1083.9,1356.9v11.2M1081.7,1365.3h11.2M1087.3,1359.7v11.2M1084.7,1368.8h11.2M1090.3,1363.2v11.2M1089.1,1370.6h11.2M1094.7,1365.0v11.2M1091.7,1371.7h11.2M1097.3,1366.1v11.2M1095.3,1375.4h11.2M1100.9,1369.8v11.2M1098.7,1378.7h11.2M1104.3,1373.1v11.2M1100.2,1380.0h11.2M1105.8,1374.4v11.2M1104.1,1381.8h11.2M1109.7,1376.2v11.2M1108.3,1381.8h11.2M1113.9,1376.2v11.2M1111.2,1381.8h11.2M1116.8,1376.2v11.2M1112.7,1382.9h11.2M1118.3,1377.3v11.2M1115.9,1387.6h11.2M1121.5,1382.0v11.2M1119.9,1391.3h11.2M1125.5,1385.7v11.2M1122.1,1393.0h11.2M1127.7,1387.4v11.2M1125.8,1393.6h11.2M1131.4,1388.0v11.2M1128.5,1394.1h11.2M1134.1,1388.5v11.2M1133.2,1401.1h11.2M1138.8,1395.5v11.2M1136.7,1406.3h11.2M1142.3,1400.7v11.2M1140.2,1410.0h11.2M1145.8,1404.4v11.2M1141.5,1410.8h11.2M1147.1,1405.2v11.2M1146.1,1414.6h11.2M1151.7,1409.0v11.2M1149.2,1420.7h11.2M1154.8,1415.1v11.2M1151.1,1422.6h11.2M1156.7,1417.0v11.2M1156.2,1426.3h11.2M1161.8,1420.7v11.2M1159.6,1428.3h11.2M1165.2,1422.7v11.2M1160.9,1429.1h11.2M1166.5,1423.5v11.2M1165.9,1436.2h11.2M1171.5,1430.6v11.2M1167.7,1440.3h11.2M1173.3,1434.7v11.2M1171.2,1445.0h11.2M1176.8,1439.4v11.2M1175.6,1448.2h11.2M1181.2,1442.6v11.2M1178.4,1456.6h11.2M1184.0,1451.0v11.2M1180.0,1457.2h11.2M1185.6,1451.6v11.2M1183.8,1457.7h11.2M1189.4,1452.1v11.2M1187.2,1458.2h11.2M1192.8,1452.6v11.2M1190.0,1458.9h11.2M1195.6,1453.3v11.2M1192.8,1463.6h11.2M1198.4,1458.0v11.2M1196.3,1476.6h11.2M1201.9,1471.0v11.2M1200.4,1476.6h11.2M1206.0,1471.0v11.2M1204.4,1476.6h11.2M1210.0,1471.0v11.2M1207.4,1476.6h11.2M1213.0,1471.0v11.2M1210.4,1476.6h11.2M1216.0,1471.0v11.2M1213.4,1476.6h11.2M1219.0,1471.0v11.2M1216.4,1476.6h11.2M1222.0,1471.0v11.2M1219.4,1476.6h11.2M1225.0,1471.0v11.2M1222.4,1476.6h11.2M1228.0,1471.0v11.2M1226.4,1476.6h11.2M1232.0,1471.0v11.2M1229.4,1476.6h11.2M1235.0,1471.0v11.2M1234.4,1476.6h11.2M1240.0,1471.0v11.2M1237.4,1477.6h11.2M1243.0,1472.0v11.2M1246.4,1482.2h11.2M1252.0,1476.6v11.2M1249.4,1482.2h11.2M1255.0,1476.6v11.2M1254.4,1487.7h11.2M1260.0,1482.1v11.2M1257.4,1487.7h11.2M1263.0,1482.1v11.2M1264.4,1498.9h11.2M1270.0,1493.3v11.2M1267.4,1498.9h11.2M1273.0,1493.3v11.2M1270.4,1498.9h11.2M1276.0,1493.3v11.2M1273.4,1498.9h11.2M1279.0,1493.3v11.2M1277.4,1498.9h11.2M1283.0,1493.3v11.2M1280.4,1498.9h11.2M1286.0,1493.3v11.2M1283.4,1498.9h11.2M1289.0,1493.3v11.2M1290.4,1498.9h11.2M1296.0,1493.3v11.2M1303.4,1498.9h11.2M1309.0,1493.3v11.2M1307.4,1498.9h11.2M1313.0,1493.3v11.2M1323.4,1510.8h11.2M1329.0,1505.2v11.2M1331.4,1510.8h11.2M1337.0,1505.2v11.2M1339.4,1510.8h11.2M1345.0,1505.2v11.2M1348.4,1510.8h11.2M1354.0,1505.2v11.2M1360.4,1510.8h11.2M1366.0,1505.2v11.2M1412.4,1510.8h11.2M1418.0,1505.2v11.2M1549.4,1557.8h11.2M1555.0,1552.2v11.2" fill="none" stroke="#9400D3" stroke-width="1.8"/>
<polyline points="977.3,1295.1 987.8,1295.1 989.2,1299.7 999.0,1300.4 1001.7,1307.4 1007.3,1310.2 1010.1,1316.5 1015.0,1320.2 1070.1,1320.2 1071.5,1325.5 1086.8,1325.5 1089.6,1329.7 1095.2,1330.4 1097.3,1336.0 1100.8,1337.4 1102.1,1341.6 1107.7,1343.7 1109.1,1349.2 1113.3,1350.6 1114.7,1359.0 1117.5,1364.6 1118.9,1371.5 1125.9,1374.3 1128.6,1379.9 1131.4,1385.5 1135.6,1388.3 1137.0,1392.5 1142.6,1393.9 1153.7,1395.3 1155.1,1400.8 1167.7,1402.2 1169.1,1412.0 1180.2,1412.0 1181.3,1410.6 1181.3,1406.6 1184.1,1415.0 1185.5,1423.3 1218.9,1423.3 1218.9,1435.2 1305.4,1435.2 1305.4,1459.5 1377.9,1459.5 1377.9,1656.0" fill="none" stroke="#FF0000" stroke-width="3.4" stroke-linejoin="round" stroke-linecap="butt"/>
<path d="M974.7,1293.1h11.2M980.3,1287.5v11.2M978.7,1293.1h11.2M984.3,1287.5v11.2M981.7,1293.1h11.2M987.3,1287.5v11.2M985.7,1297.9h11.2M991.3,1292.3v11.2M988.7,1298.1h11.2M994.3,1292.5v11.2M992.7,1298.4h11.2M998.3,1292.8v11.2M1018.7,1318.2h11.2M1024.3,1312.6v11.2M1021.7,1318.2h11.2M1027.3,1312.6v11.2M1034.7,1318.2h11.2M1040.3,1312.6v11.2M1044.7,1318.2h11.2M1050.3,1312.6v11.2M1054.7,1318.2h11.2M1060.3,1312.6v11.2M1061.7,1318.2h11.2M1067.3,1312.6v11.2M1064.7,1319.1h11.2M1070.3,1313.5v11.2M1075.7,1323.5h11.2M1081.3,1317.9v11.2M1080.7,1323.5h11.2M1086.3,1317.9v11.2M1084.7,1327.8h11.2M1090.3,1322.2v11.2M1101.7,1341.5h11.2M1107.3,1335.9v11.2M1104.7,1347.6h11.2M1110.3,1342.0v11.2M1107.7,1348.6h11.2M1113.3,1343.0v11.2M1110.7,1360.2h11.2M1116.3,1354.6v11.2M1117.7,1371.3h11.2M1123.3,1365.7v11.2M1120.7,1373.2h11.2M1126.3,1367.6v11.2M1130.7,1388.3h11.2M1136.3,1382.7v11.2M1134.7,1391.3h11.2M1140.3,1385.7v11.2M1138.7,1392.1h11.2M1144.3,1386.5v11.2M1141.7,1392.4h11.2M1147.3,1386.8v11.2M1144.7,1392.8h11.2M1150.3,1387.2v11.2M1151.7,1399.1h11.2M1157.3,1393.5v11.2M1154.7,1399.4h11.2M1160.3,1393.8v11.2M1158.7,1399.9h11.2M1164.3,1394.3v11.2M1161.7,1400.2h11.2M1167.3,1394.6v11.2M1164.7,1410.0h11.2M1170.3,1404.4v11.2M1167.7,1410.0h11.2M1173.3,1404.4v11.2M1175.7,1408.6h11.2M1181.3,1403.0v11.2M1187.7,1421.3h11.2M1193.3,1415.7v11.2M1189.7,1421.3h11.2M1195.3,1415.7v11.2M1201.7,1421.3h11.2M1207.3,1415.7v11.2M1212.7,1421.3h11.2M1218.3,1415.7v11.2M1217.7,1433.2h11.2M1223.3,1427.6v11.2M1220.7,1433.2h11.2M1226.3,1427.6v11.2M1223.7,1433.2h11.2M1229.3,1427.6v11.2M1242.7,1433.2h11.2M1248.3,1427.6v11.2M1248.7,1433.2h11.2M1254.3,1427.6v11.2M1251.7,1433.2h11.2M1257.3,1427.6v11.2M1253.7,1433.2h11.2M1259.3,1427.6v11.2M1255.7,1433.2h11.2M1261.3,1427.6v11.2M1257.7,1433.2h11.2M1263.3,1427.6v11.2M1277.7,1433.2h11.2M1283.3,1427.6v11.2M1280.7,1433.2h11.2M1286.3,1427.6v11.2M1288.7,1433.2h11.2M1294.3,1427.6v11.2M1309.7,1457.5h11.2M1315.3,1451.9v11.2M1315.7,1457.5h11.2M1321.3,1451.9v11.2M1326.7,1457.5h11.2M1332.3,1451.9v11.2M1329.7,1457.5h11.2M1335.3,1451.9v11.2M1332.7,1457.5h11.2M1338.3,1451.9v11.2M1334.7,1457.5h11.2M1340.3,1451.9v11.2M1364.7,1457.5h11.2M1370.3,1451.9v11.2" fill="none" stroke="#FF0000" stroke-width="1.8"/>
<line x1="1377.60" y1="1475.50" x2="1377.60" y2="1654.60" stroke="#000" stroke-width="2.1" stroke-dasharray="7.23 7.23"/>
</g>
</svg>
</body></html>
